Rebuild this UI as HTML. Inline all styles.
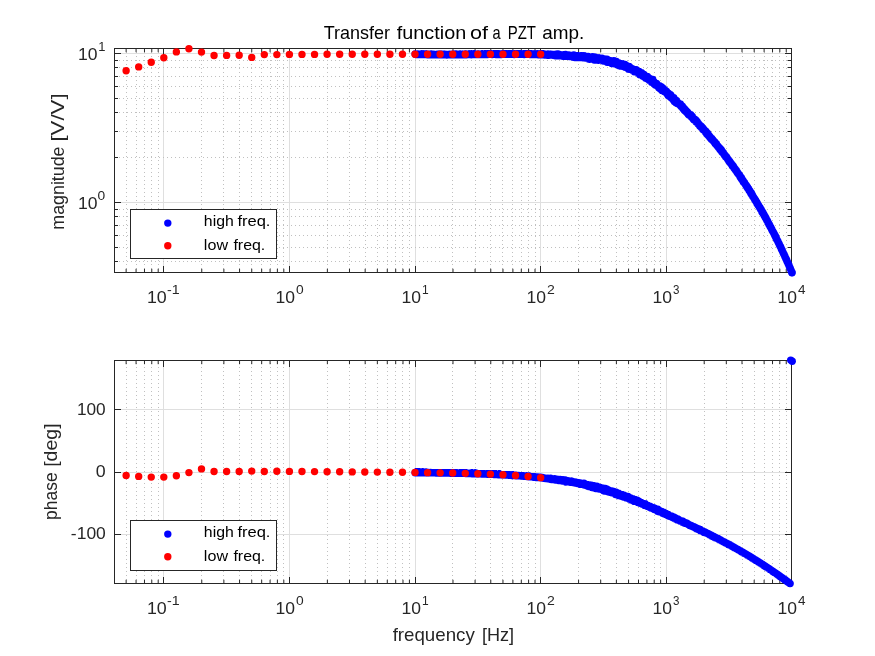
<!DOCTYPE html>
<html lang="en"><head><meta charset="utf-8"><title>Transfer function of a PZT amp.</title>
<style>html,body{margin:0;padding:0;background:#fff;overflow:hidden}svg{display:block}</style></head>
<body>
<svg width="875" height="656" viewBox="0 0 875 656" font-family='"Liberation Sans", Arial, sans-serif' fill="#262626">
<rect width="875" height="656" fill="#fff"/>
<g shape-rendering="crispEdges" fill="none" stroke-width="1">
<path d="M163.5 49V272M289.5 49V272M415.5 49V272M540.5 49V272M666.5 49V272M115 202.5H791M115 53.5H791" stroke="#dfdfdf"/>
<path d="M126.5 273V49M136.5 273V49M144.5 273V49M151.5 273V49M158.5 273V49M201.5 273V49M223.5 273V49M239.5 273V49M251.5 273V49M261.5 273V49M270.5 273V49M277.5 273V49M283.5 273V49M327.5 273V49M349.5 273V49M365.5 273V49M377.5 273V49M387.5 273V49M395.5 273V49M402.5 273V49M409.5 273V49M452.5 273V49M475.5 273V49M490.5 273V49M502.5 273V49M512.5 273V49M521.5 273V49M528.5 273V49M535.5 273V49M578.5 273V49M600.5 273V49M616.5 273V49M628.5 273V49M638.5 273V49M646.5 273V49M654.5 273V49M660.5 273V49M704.5 273V49M726.5 273V49M742.5 273V49M754.5 273V49M764.5 273V49M772.5 273V49M779.5 273V49M786.5 273V49M115 261.5H791M115 247.5H791M115 235.5H791M115 225.5H791M115 216.5H791M115 209.5H791M115 157.5H791M115 131.5H791M115 112.5H791M115 98.5H791M115 86.5H791M115 76.5H791M115 67.5H791M115 60.5H791" stroke="#c0c0c0" stroke-dasharray="1 3"/>
<path d="M163.5 272v-6M163.5 49v6M289.5 272v-6M289.5 49v6M415.5 272v-6M415.5 49v6M540.5 272v-6M540.5 49v6M666.5 272v-6M666.5 49v6M791.5 272v-6M791.5 49v6M115 202.5h6M791 202.5h-6M115 53.5h6M791 53.5h-6" stroke="#262626"/>
<rect x="114.5" y="48.5" width="677" height="224" stroke="#262626"/>
</g>
<path d="M126.13 272v-3.2M126.13 49v3.2M136.07 272v-3.2M136.07 49v3.2M144.48 272v-3.2M144.48 49v3.2M151.77 272v-3.2M151.77 49v3.2M158.19 272v-3.2M158.19 49v3.2M201.75 272v-3.2M201.75 49v3.2M223.87 272v-3.2M223.87 49v3.2M239.56 272v-3.2M239.56 49v3.2M251.74 272v-3.2M251.74 49v3.2M261.68 272v-3.2M261.68 49v3.2M270.09 272v-3.2M270.09 49v3.2M277.38 272v-3.2M277.38 49v3.2M283.8 272v-3.2M283.8 49v3.2M327.36 272v-3.2M327.36 49v3.2M349.48 272v-3.2M349.48 49v3.2M365.17 272v-3.2M365.17 49v3.2M377.35 272v-3.2M377.35 49v3.2M387.29 272v-3.2M387.29 49v3.2M395.7 272v-3.2M395.7 49v3.2M402.99 272v-3.2M402.99 49v3.2M409.41 272v-3.2M409.41 49v3.2M452.97 272v-3.2M452.97 49v3.2M475.09 272v-3.2M475.09 49v3.2M490.78 272v-3.2M490.78 49v3.2M502.96 272v-3.2M502.96 49v3.2M512.9 272v-3.2M512.9 49v3.2M521.31 272v-3.2M521.31 49v3.2M528.6 272v-3.2M528.6 49v3.2M535.02 272v-3.2M535.02 49v3.2M578.58 272v-3.2M578.58 49v3.2M600.7 272v-3.2M600.7 49v3.2M616.39 272v-3.2M616.39 49v3.2M628.57 272v-3.2M628.57 49v3.2M638.51 272v-3.2M638.51 49v3.2M646.92 272v-3.2M646.92 49v3.2M654.21 272v-3.2M654.21 49v3.2M660.63 272v-3.2M660.63 49v3.2M704.19 272v-3.2M704.19 49v3.2M726.31 272v-3.2M726.31 49v3.2M742 272v-3.2M742 49v3.2M754.18 272v-3.2M754.18 49v3.2M764.12 272v-3.2M764.12 49v3.2M772.53 272v-3.2M772.53 49v3.2M779.82 272v-3.2M779.82 49v3.2M786.24 272v-3.2M786.24 49v3.2M115 261.5h3M791 261.5h-3.2M115 247.5h3M791 247.5h-3.2M115 235.5h3M791 235.5h-3.2M115 225.5h3M791 225.5h-3.2M115 216.5h3M791 216.5h-3.2M115 209.5h3M791 209.5h-3.2M115 157.5h3M791 157.5h-3.2M115 131.5h3M791 131.5h-3.2M115 112.5h3M791 112.5h-3.2M115 98.5h3M791 98.5h-3.2M115 86.5h3M791 86.5h-3.2M115 76.5h3M791 76.5h-3.2M115 67.5h3M791 67.5h-3.2M115 60.5h3M791 60.5h-3.2" stroke="#262626" stroke-width="1" fill="none"/>
<path d="M415.16 54.04h0M415.36 54.31h0M415.56 54.27h0M415.76 54.29h0M415.96 54.56h0M416.16 54.38h0M416.36 54.47h0M416.56 54.26h0M416.76 54.23h0M416.96 54.22h0M417.16 54.3h0M417.36 54.58h0M417.56 54.35h0M417.76 54.06h0M417.96 54.28h0M418.16 54.59h0M418.36 54.37h0M418.56 54.47h0M418.76 54.67h0M418.96 54.2h0M419.16 54.47h0M419.36 54.39h0M419.56 54.35h0M419.76 54.41h0M419.96 54.44h0M420.16 54.18h0M420.36 54.49h0M420.56 54.4h0M420.76 54.42h0M420.96 54.36h0M421.16 54.41h0M421.36 54.31h0M421.56 54.24h0M421.76 54.31h0M421.96 54.46h0M422.16 54.4h0M422.36 54.59h0M422.56 54.36h0M422.76 54.43h0M422.96 54.28h0M423.16 54.45h0M423.36 54.19h0M423.56 54.46h0M423.76 54.37h0M423.96 54.29h0M424.16 54.59h0M424.36 54.35h0M424.56 54.47h0M424.76 54.17h0M424.96 54.52h0M425.16 54.53h0M425.36 54.6h0M425.56 54.55h0M425.76 54.3h0M425.96 54.51h0M426.16 54.46h0M426.36 54.11h0M426.56 54.54h0M426.76 54.3h0M426.96 54.64h0M427.16 54.54h0M427.36 54.74h0M427.56 54.33h0M427.76 54.5h0M427.96 54.5h0M428.16 54.38h0M428.36 54.52h0M428.56 54.82h0M428.76 54.58h0M428.96 54.44h0M429.16 54.61h0M429.36 54.3h0M429.56 54.41h0M429.76 54.46h0M429.96 54.81h0M430.16 54.68h0M430.36 54.35h0M430.56 54.62h0M430.76 54.33h0M430.96 54.51h0M431.16 54.57h0M431.36 54.43h0M431.56 54.43h0M431.76 54.77h0M431.96 54.73h0M432.16 54.75h0M432.36 54.44h0M432.56 54.55h0M432.76 54.56h0M432.96 54.58h0M433.16 54.53h0M433.36 54.78h0M433.56 54.27h0M433.76 54.7h0M433.96 54.51h0M434.16 54.43h0M434.36 54.76h0M434.56 54.84h0M434.76 54.42h0M434.96 54.65h0M435.16 54.39h0M435.36 54.71h0M435.56 54.83h0M435.76 54.74h0M435.96 54.59h0M436.16 54.61h0M436.36 54.54h0M436.56 54.54h0M436.76 54.59h0M436.96 54.6h0M437.16 54.57h0M437.36 54.32h0M437.56 54.78h0M437.76 54.48h0M437.96 54.78h0M438.16 54.8h0M438.36 54.56h0M438.56 54.6h0M438.76 54.73h0M438.96 54.5h0M439.16 54.49h0M439.36 54.75h0M439.56 54.36h0M439.76 54.63h0M439.96 54.84h0M440.16 54.58h0M440.36 54.68h0M440.56 54.56h0M440.76 54.9h0M440.96 54.7h0M441.16 54.48h0M441.36 54.71h0M441.56 54.71h0M441.76 54.54h0M441.96 54.47h0M442.16 54.56h0M442.36 54.92h0M442.56 54.49h0M442.76 54.68h0M442.96 54.65h0M443.16 54.47h0M443.36 54.33h0M443.56 54.29h0M443.76 54.61h0M443.96 54.83h0M444.16 54.61h0M444.36 54.61h0M444.56 54.44h0M444.76 54.28h0M444.96 54.55h0M445.16 54.36h0M445.36 54.77h0M445.56 54.68h0M445.76 54.56h0M445.96 54.45h0M446.16 54.48h0M446.36 54.67h0M446.56 54.65h0M446.76 54.96h0M446.96 54.63h0M447.16 54.56h0M447.36 54.89h0M447.56 54.83h0M447.76 54.74h0M447.96 54.79h0M448.16 54.73h0M448.36 54.47h0M448.56 54.74h0M448.76 54.44h0M448.96 54.6h0M449.16 54.65h0M449.36 54.51h0M449.56 54.6h0M449.76 54.28h0M449.96 54.8h0M450.16 54.58h0M450.36 54.51h0M450.56 54.41h0M450.76 54.33h0M450.96 54.46h0M451.16 54.76h0M451.36 54.49h0M451.56 54.66h0M451.76 54.58h0M451.96 54.38h0M452.16 54.54h0M452.36 54.57h0M452.56 54.44h0M452.76 54.6h0M452.96 54.67h0M453.16 54.29h0M453.36 54.46h0M453.56 54.44h0M453.76 54.44h0M453.96 54.68h0M454.16 54.64h0M454.36 54.89h0M454.56 54.69h0M454.76 54.55h0M454.96 54.47h0M455.16 54.84h0M455.36 54.41h0M455.56 54.72h0M455.76 54.86h0M455.96 54.54h0M456.16 54.51h0M456.36 54.55h0M456.56 54.53h0M456.76 54.44h0M456.96 54.33h0M457.16 54.63h0M457.36 54.81h0M457.56 54.53h0M457.76 54.68h0M457.96 54.3h0M458.16 54.62h0M458.36 54.69h0M458.56 54.51h0M458.76 54.73h0M458.96 54.38h0M459.16 54.38h0M459.36 54.53h0M459.56 54.45h0M459.76 54.46h0M459.96 54.63h0M460.16 54.36h0M460.36 54.55h0M460.56 54.42h0M460.76 54.42h0M460.96 54.65h0M461.16 54.56h0M461.36 54.49h0M461.56 54.5h0M461.76 54.37h0M461.96 54.9h0M462.16 54.31h0M462.36 54.51h0M462.56 54.44h0M462.76 54.56h0M462.96 54.28h0M463.16 54.65h0M463.36 54.46h0M463.56 54.89h0M463.76 54.83h0M463.96 54.5h0M464.16 54.78h0M464.36 54.34h0M464.56 54.74h0M464.76 54.69h0M464.96 54.27h0M465.16 54.78h0M465.36 54.3h0M465.56 54.38h0M465.76 54.46h0M465.96 54.37h0M466.16 54.62h0M466.36 54.3h0M466.56 54.77h0M466.76 54.44h0M466.96 54.51h0M467.16 54.51h0M467.36 54.35h0M467.56 54.12h0M467.76 54.56h0M467.96 54.45h0M468.16 54.35h0M468.36 54.66h0M468.56 54.37h0M468.76 54.42h0M468.96 54.32h0M469.16 54.2h0M469.36 54.21h0M469.56 54.49h0M469.76 54.54h0M469.96 54.51h0M470.16 54.35h0M470.36 54.42h0M470.56 54.62h0M470.76 54.18h0M470.96 54.66h0M471.16 54.24h0M471.36 54.74h0M471.56 54.23h0M471.76 54.09h0M471.96 54.42h0M472.16 54.43h0M472.36 54.34h0M472.56 54.38h0M472.76 54.2h0M472.96 54.2h0M473.16 54.11h0M473.36 54.41h0M473.56 54.14h0M473.76 54h0M473.96 54.62h0M474.16 53.99h0M474.36 54.46h0M474.56 54.02h0M474.76 54.42h0M474.96 54.29h0M475.16 54.46h0M475.36 54.24h0M475.56 54.2h0M475.76 54.51h0M475.96 54.16h0M476.16 54.29h0M476.36 54.41h0M476.56 54.4h0M476.76 54.4h0M476.96 54.29h0M477.16 54.17h0M477.36 54.51h0M477.56 54.64h0M477.76 54.63h0M477.96 54.59h0M478.16 54.03h0M478.36 54.33h0M478.56 54.16h0M478.76 54.44h0M478.96 54.57h0M479.16 54.21h0M479.36 54.56h0M479.56 54.25h0M479.76 54.43h0M479.96 54.08h0M480.16 54.45h0M480.36 54.14h0M480.56 54.16h0M480.76 54.47h0M480.96 54.33h0M481.16 54.27h0M481.36 54.37h0M481.56 53.85h0M481.76 54.29h0M481.96 53.83h0M482.16 54.45h0M482.36 54.26h0M482.56 54.23h0M482.76 54h0M482.96 54.22h0M483.16 54.26h0M483.36 54.2h0M483.56 54.3h0M483.76 54.19h0M483.96 54.26h0M484.16 54.34h0M484.36 54.44h0M484.56 53.97h0M484.76 54.44h0M484.96 54.04h0M485.16 54.32h0M485.36 53.9h0M485.56 54.11h0M485.76 54.21h0M485.96 54.28h0M486.16 53.93h0M486.36 54.34h0M486.56 54.15h0M486.76 54.23h0M486.96 54.32h0M487.16 53.84h0M487.36 54.37h0M487.56 54.52h0M487.76 54.37h0M487.96 54.2h0M488.16 53.88h0M488.36 53.85h0M488.56 53.85h0M488.76 54.24h0M488.96 54.38h0M489.16 54.06h0M489.36 54.32h0M489.56 54.02h0M489.76 54.18h0M489.96 54.14h0M490.16 53.99h0M490.36 54.05h0M490.56 54.2h0M490.76 53.9h0M490.96 54.4h0M491.16 54.32h0M491.36 53.96h0M491.56 54.2h0M491.76 54.34h0M491.96 53.95h0M492.16 54.44h0M492.36 54.2h0M492.56 54.14h0M492.76 54.3h0M492.96 54.2h0M493.16 54.35h0M493.36 54.34h0M493.56 54.02h0M493.76 54.31h0M493.96 54.05h0M494.16 54.21h0M494.36 54.2h0M494.56 53.88h0M494.76 54.27h0M494.96 54.24h0M495.16 54.09h0M495.36 54.31h0M495.56 53.9h0M495.76 54.18h0M495.96 54.56h0M496.16 54.05h0M496.36 54.55h0M496.56 54.19h0M496.76 53.97h0M496.96 54.12h0M497.16 54h0M497.36 54.43h0M497.56 54.36h0M497.76 54.38h0M497.96 54.06h0M498.16 54h0M498.36 53.99h0M498.56 53.98h0M498.76 54.08h0M498.96 53.77h0M499.16 54.21h0M499.36 54.15h0M499.56 54.43h0M499.76 54.12h0M499.96 54.2h0M500.16 54.42h0M500.36 53.97h0M500.56 54.23h0M500.76 54.1h0M500.96 53.99h0M501.16 53.94h0M501.36 54.46h0M501.56 54.33h0M501.76 54.14h0M501.96 53.91h0M502.16 54.3h0M502.36 54.04h0M502.56 53.67h0M502.76 54.18h0M502.96 53.98h0M503.16 53.8h0M503.36 54.26h0M503.56 53.95h0M503.76 54.2h0M503.96 54.09h0M504.16 54.19h0M504.36 53.88h0M504.56 53.88h0M504.76 53.91h0M504.96 54.27h0M505.16 54.12h0M505.36 54h0M505.56 53.92h0M505.76 54.01h0M505.96 54.17h0M506.16 53.95h0M506.36 54.08h0M506.56 54.21h0M506.76 54.25h0M506.96 54.2h0M507.16 53.85h0M507.36 53.99h0M507.56 54.07h0M507.76 54h0M507.96 54.18h0M508.16 53.8h0M508.36 53.89h0M508.56 54.06h0M508.76 54.06h0M508.96 54.15h0M509.16 53.72h0M509.36 53.87h0M509.56 53.99h0M509.76 54.1h0M509.96 54.31h0M510.16 53.77h0M510.36 54.01h0M510.56 53.87h0M510.76 53.91h0M510.96 54.03h0M511.16 54.16h0M511.36 54.14h0M511.56 54.03h0M511.76 53.82h0M511.96 54.08h0M512.16 54.05h0M512.36 53.96h0M512.56 53.96h0M512.76 53.87h0M512.96 54.24h0M513.16 54.11h0M513.36 53.99h0M513.56 54.37h0M513.76 54.03h0M513.96 54.21h0M514.16 54.54h0M514.36 53.68h0M514.56 54.03h0M514.76 54.28h0M514.96 54.22h0M515.16 54.14h0M515.36 54.18h0M515.56 53.9h0M515.76 54.21h0M515.96 53.97h0M516.16 54.31h0M516.36 53.74h0M516.56 53.92h0M516.76 54.24h0M516.96 54.08h0M517.16 53.91h0M517.36 53.9h0M517.56 53.99h0M517.76 54.16h0M517.96 54.09h0M518.16 54.02h0M518.36 54.26h0M518.56 54.22h0M518.76 54.03h0M518.96 53.86h0M519.16 54.09h0M519.36 54.15h0M519.56 54.05h0M519.76 54.42h0M519.96 54.16h0M520.16 54.15h0M520.36 54.23h0M520.56 54.08h0M520.76 54.24h0M520.96 54.21h0M521.16 54.2h0M521.36 54.07h0M521.56 53.82h0M521.76 53.92h0M521.96 54.06h0M522.16 53.93h0M522.36 53.91h0M522.56 54h0M522.76 53.9h0M522.96 54.29h0M523.16 54.13h0M523.36 54.22h0M523.56 54.12h0M523.76 53.99h0M523.96 53.82h0M524.16 54.43h0M524.36 54.18h0M524.56 53.75h0M524.76 54.34h0M524.96 53.85h0M525.16 53.94h0M525.36 53.82h0M525.56 53.92h0M525.76 54.04h0M525.96 54.21h0M526.16 54.11h0M526.36 53.89h0M526.56 54.02h0M526.76 53.75h0M526.96 53.95h0M527.16 54.15h0M527.36 54.31h0M527.56 54.13h0M527.76 53.93h0M527.96 53.94h0M528.16 54.32h0M528.36 54.2h0M528.56 53.84h0M528.76 53.97h0M528.96 54.05h0M529.16 54.06h0M529.36 53.87h0M529.56 54.19h0M529.76 54.02h0M529.96 54.49h0M530.16 54.04h0M530.36 54.17h0M530.56 54.42h0M530.76 54.18h0M530.96 54.51h0M531.16 53.87h0M531.36 54.28h0M531.56 54.19h0M531.76 54.05h0M531.96 54.1h0M532.16 54.38h0M532.36 54.25h0M532.56 54.31h0M532.76 54.24h0M532.96 54.59h0M533.16 54.06h0M533.36 54.23h0M533.56 54.15h0M533.76 54.23h0M533.96 54.2h0M534.16 54.38h0M534.36 53.94h0M534.56 54.18h0M534.76 54.17h0M534.96 54.39h0M535.16 54.38h0M535.36 53.93h0M535.56 54.46h0M535.76 54.11h0M535.96 54.32h0M536.16 53.92h0M536.36 54.03h0M536.56 54.4h0M536.76 54.44h0M536.96 54.24h0M537.16 54.25h0M537.36 54.59h0M537.56 53.82h0M537.76 54.18h0M537.96 54.35h0M538.16 54.84h0M538.36 53.98h0M538.56 54.76h0M538.76 54.11h0M538.96 54.46h0M539.16 54.61h0M539.36 54.48h0M539.56 54.32h0M539.76 54.37h0M539.96 54.52h0M540.16 54.21h0M540.36 54.63h0M540.56 54.3h0M540.76 54.43h0M540.96 54.51h0M541.16 54.31h0M541.36 54.37h0M541.56 54.53h0M541.76 54.77h0M541.96 54.87h0M542.16 54.14h0M542.36 54.12h0M542.56 54.2h0M542.76 54.31h0M542.96 54.11h0M543.16 54.47h0M543.36 54.22h0M543.56 54.08h0M543.76 54.89h0M543.96 54.41h0M544.16 54.64h0M544.36 54.23h0M544.56 54.97h0M544.76 54.72h0M544.96 54.63h0M545.16 54.47h0M545.36 54.67h0M545.56 54.3h0M545.76 54.69h0M545.96 54.56h0M546.16 54.39h0M546.36 54.53h0M546.56 54.51h0M546.76 54.51h0M546.96 54.68h0M547.16 54.56h0M547.36 55.18h0M547.56 54.51h0M547.76 54.17h0M547.96 54.12h0M548.16 54.67h0M548.36 54.66h0M548.56 54.59h0M548.76 54.45h0M548.96 55.25h0M549.16 54.69h0M549.36 54.53h0M549.56 54.2h0M549.76 54.93h0M549.96 54.54h0M550.16 54.77h0M550.36 54.78h0M550.56 54.71h0M550.76 54.56h0M550.96 54.22h0M551.16 54.91h0M551.36 54.45h0M551.56 54.71h0M551.76 54.62h0M551.96 55.08h0M552.16 54.79h0M552.36 54.47h0M552.56 54.76h0M552.76 55.14h0M552.96 55.34h0M553.16 54.64h0M553.36 55.28h0M553.56 54.46h0M553.76 55.16h0M553.96 54.88h0M554.16 55.05h0M554.36 54.94h0M554.56 55.37h0M554.76 54.64h0M554.96 54.69h0M555.16 54.4h0M555.36 55.78h0M555.56 54.56h0M555.76 55.44h0M555.96 55.48h0M556.16 55.43h0M556.36 55.37h0M556.56 55.16h0M556.76 55.29h0M556.96 54.72h0M557.16 54.41h0M557.36 54.81h0M557.56 53.87h0M557.76 55.36h0M557.96 55.18h0M558.16 54.74h0M558.36 55.92h0M558.56 54.34h0M558.76 55.05h0M558.96 55.56h0M559.16 54.57h0M559.36 55.72h0M559.56 54.49h0M559.76 55.24h0M559.96 55.09h0M560.16 55.05h0M560.36 54.66h0M560.56 54.8h0M560.76 55.48h0M560.96 54.86h0M561.16 55.33h0M561.36 55.36h0M561.56 55.4h0M561.76 55.11h0M561.96 55.49h0M562.16 55.78h0M562.36 55.7h0M562.56 55.24h0M562.76 55.78h0M562.96 56.29h0M563.16 55.87h0M563.36 55.94h0M563.56 55.31h0M563.76 54.67h0M563.96 55.97h0M564.16 55.43h0M564.36 55.16h0M564.56 54.71h0M564.76 55.56h0M564.96 56.13h0M565.16 54.83h0M565.36 56.19h0M565.56 54.57h0M565.76 55.45h0M565.96 55.81h0M566.16 55.98h0M566.36 55.54h0M566.56 55.35h0M566.76 56.1h0M566.96 55.47h0M567.16 55.49h0M567.36 55.02h0M567.56 55.38h0M567.76 56.23h0M567.96 56.21h0M568.16 55.96h0M568.36 56.32h0M568.56 55.58h0M568.76 54.99h0M568.96 55.96h0M569.16 56.42h0M569.36 56.62h0M569.56 56.33h0M569.76 55.94h0M569.96 55.26h0M570.16 55.82h0M570.36 55.58h0M570.56 55.8h0M570.76 55.65h0M570.96 56.18h0M571.16 55.72h0M571.36 56.42h0M571.56 55.71h0M571.76 55.52h0M571.96 56.32h0M572.16 56.53h0M572.36 56.19h0M572.56 56.35h0M572.76 56.42h0M572.96 55.92h0M573.16 55.23h0M573.36 57.32h0M573.56 56.14h0M573.76 54.93h0M573.96 56.72h0M574.16 56.71h0M574.36 57.01h0M574.56 57.14h0M574.76 57.46h0M574.96 56.73h0M575.16 56.1h0M575.36 56.02h0M575.56 55.33h0M575.76 56.89h0M575.96 57.22h0M576.16 56.24h0M576.36 57.15h0M576.56 56.9h0M576.76 57.04h0M576.96 56h0M577.16 55.74h0M577.36 57.46h0M577.56 56.64h0M577.76 55.69h0M577.96 55.59h0M578.16 55.62h0M578.36 57.17h0M578.56 57.1h0M578.76 56.61h0M578.96 57.11h0M579.16 57.2h0M579.36 57.48h0M579.56 56.47h0M579.76 56.92h0M579.96 56.84h0M580.16 55.9h0M580.36 57.67h0M580.56 56.92h0M580.76 57.14h0M580.96 56.89h0M581.16 55.93h0M581.36 55.68h0M581.56 55.8h0M581.76 56.69h0M581.96 57.39h0M582.16 56.21h0M582.36 57.45h0M582.56 57.1h0M582.76 57.26h0M582.96 57.69h0M583.16 57.04h0M583.36 57.56h0M583.56 57.3h0M583.76 55.72h0M583.96 57.65h0M584.16 57.12h0M584.36 56.78h0M584.56 56.68h0M584.76 56.77h0M584.96 56.96h0M585.16 57.28h0M585.36 58.11h0M585.56 56.65h0M585.76 57.38h0M585.96 56.95h0M586.16 56.37h0M586.36 57.28h0M586.56 58.17h0M586.76 56.74h0M586.96 57.09h0M587.16 57.59h0M587.36 58.27h0M587.56 57.49h0M587.76 57.86h0M587.96 57.25h0M588.16 56.53h0M588.36 57.41h0M588.56 58.94h0M588.76 57.87h0M588.96 57.31h0M589.16 57.55h0M589.36 57.76h0M589.56 59.23h0M589.76 57.89h0M589.96 57.92h0M590.16 57.52h0M590.36 57.74h0M590.56 59h0M590.76 57.47h0M590.96 58.33h0M591.16 58.46h0M591.36 56.93h0M591.56 58.66h0M591.76 58.59h0M591.96 57.35h0M592.16 57.78h0M592.36 58.31h0M592.56 56.81h0M592.76 56.96h0M592.96 58.46h0M593.16 57.88h0M593.36 59.13h0M593.56 56.92h0M593.76 57.74h0M593.96 58.56h0M594.16 59.04h0M594.36 60.07h0M594.56 57.64h0M594.76 57.58h0M594.96 59.47h0M595.16 58.34h0M595.36 57.3h0M595.56 58.57h0M595.76 58.79h0M595.96 58.49h0M596.16 58.12h0M596.36 58.61h0M596.56 58.79h0M596.76 58.48h0M596.96 58.37h0M597.16 58.17h0M597.36 59.03h0M597.56 59.97h0M597.76 58.6h0M597.96 58.2h0M598.16 59.74h0M598.36 60.31h0M598.56 58.78h0M598.76 57.85h0M598.96 59.27h0M599.16 57.94h0M599.36 58.08h0M599.56 59.15h0M599.76 58.73h0M599.96 58.25h0M600.16 59.46h0M600.36 59.71h0M600.56 59.71h0M600.76 59.51h0M600.96 60.16h0M601.16 59.24h0M601.36 59.98h0M601.56 59.27h0M601.76 59.33h0M601.96 58.31h0M602.16 59h0M602.36 60.34h0M602.56 60.4h0M602.76 59.26h0M602.96 59.37h0M603.16 60.25h0M603.36 60.96h0M603.56 58.84h0M603.76 59.97h0M603.96 59.27h0M604.16 60.42h0M604.36 59.82h0M604.56 59.14h0M604.76 60.94h0M604.96 60.29h0M605.16 60.37h0M605.36 59.32h0M605.56 60.41h0M605.76 60.23h0M605.96 61.09h0M606.16 60.75h0M606.36 60.3h0M606.56 59.63h0M606.76 61.73h0M606.96 59.32h0M607.16 62.27h0M607.36 61.36h0M607.56 61.92h0M607.76 60.83h0M607.96 60.31h0M608.16 59.94h0M608.36 61.62h0M608.56 61.31h0M608.76 61.79h0M608.96 60.93h0M609.16 62.42h0M609.36 62.19h0M609.56 61.9h0M609.76 60.81h0M609.96 60.76h0M610.16 60.99h0M610.36 61.23h0M610.56 62.34h0M610.76 60.81h0M610.96 61.63h0M611.16 61.46h0M611.36 61.54h0M611.56 63.22h0M611.76 63.58h0M611.96 61.85h0M612.16 62.61h0M612.36 62.47h0M612.56 61.75h0M612.76 61.64h0M612.96 61.39h0M613.16 61.05h0M613.36 63.32h0M613.56 63.5h0M613.76 60.64h0M613.96 62.06h0M614.16 61.03h0M614.36 63.74h0M614.56 62.52h0M614.76 62.33h0M614.96 61.58h0M615.16 61.55h0M615.36 62.41h0M615.56 62.78h0M615.76 63.83h0M615.96 62.14h0M616.16 62.96h0M616.36 61.56h0M616.56 64.05h0M616.76 63.35h0M616.96 62.98h0M617.16 64.82h0M617.36 62.48h0M617.56 63.81h0M617.76 64.02h0M617.96 62.87h0M618.16 63.78h0M618.36 64.6h0M618.56 63.77h0M618.76 63.49h0M618.96 63.01h0M619.16 64.35h0M619.36 65.71h0M619.56 64.26h0M619.76 64.17h0M619.96 63.43h0M620.16 64.83h0M620.36 63.89h0M620.56 63.52h0M620.76 64.47h0M620.96 66.16h0M621.16 63.83h0M621.36 64.13h0M621.56 65.94h0M621.76 63.61h0M621.96 63.96h0M622.16 64.55h0M622.36 65.35h0M622.56 64.7h0M622.76 64.71h0M622.96 64.93h0M623.16 65.25h0M623.36 66.52h0M623.56 65.31h0M623.76 65.78h0M623.96 64.29h0M624.16 65.55h0M624.36 66.29h0M624.56 65.5h0M624.76 66.4h0M624.96 64.56h0M625.16 67.29h0M625.36 66.29h0M625.56 66.43h0M625.76 66.78h0M625.96 65.81h0M626.16 66.46h0M626.36 67.56h0M626.56 65.81h0M626.76 65.66h0M626.96 67h0M627.16 67.73h0M627.36 65.87h0M627.56 66.17h0M627.76 68.39h0M627.96 67.15h0M628.16 68.11h0M628.36 67.25h0M628.56 69.14h0M628.76 66.81h0M628.96 68.97h0M629.16 66.45h0M629.36 69.34h0M629.56 68.26h0M629.76 68.09h0M629.96 68.69h0M630.16 68.74h0M630.36 68.66h0M630.56 68.24h0M630.76 69.47h0M630.96 67.87h0M631.16 68.16h0M631.36 69.17h0M631.56 69.44h0M631.76 69.14h0M631.96 68.91h0M632.16 69.35h0M632.36 70.33h0M632.56 69.21h0M632.76 69.01h0M632.96 69.08h0M633.16 70.25h0M633.36 69.67h0M633.56 70.23h0M633.76 70.96h0M633.96 70.14h0M634.16 69.87h0M634.36 71.75h0M634.56 70.93h0M634.76 71.4h0M634.96 70.13h0M635.16 70.73h0M635.36 70.87h0M635.56 70.12h0M635.76 71.82h0M635.96 70.62h0M636.16 69.8h0M636.36 70.78h0M636.56 71.47h0M636.76 70.38h0M636.96 71.2h0M637.16 71.61h0M637.36 71.03h0M637.56 71.7h0M637.76 72.27h0M637.96 72.85h0M638.16 72.55h0M638.36 72.09h0M638.56 73.62h0M638.76 72.95h0M638.96 72.64h0M639.16 71.47h0M639.36 73.01h0M639.56 74.23h0M639.76 74.87h0M639.96 73.46h0M640.16 74.17h0M640.36 73.39h0M640.56 73.61h0M640.76 72.78h0M640.96 74.29h0M641.16 73.64h0M641.36 73.8h0M641.56 72.79h0M641.76 74.71h0M641.96 74.56h0M642.16 74.39h0M642.36 73.97h0M642.56 74.41h0M642.76 75.55h0M642.96 76.17h0M643.16 75.82h0M643.36 74.64h0M643.56 76.34h0M643.76 76.57h0M643.96 74.33h0M644.16 75.79h0M644.36 76.46h0M644.56 76.18h0M644.76 76.75h0M644.96 76.02h0M645.16 75.59h0M645.36 77.97h0M645.56 76.05h0M645.76 76.53h0M645.96 77.69h0M646.16 77.44h0M646.36 78.5h0M646.56 77.65h0M646.76 78.83h0M646.96 77.18h0M647.16 78.51h0M647.36 76.55h0M647.56 77.13h0M647.76 77.06h0M647.96 77.49h0M648.16 78.22h0M648.36 78.33h0M648.56 78.22h0M648.76 78.82h0M648.96 79.43h0M649.16 80.14h0M649.36 80.27h0M649.56 78.57h0M649.76 79.29h0M649.96 80.34h0M650.16 79.34h0M650.36 79.79h0M650.56 80.03h0M650.76 80.49h0M650.96 80.97h0M651.16 80.36h0M651.36 79.78h0M651.56 82.19h0M651.76 80.77h0M651.96 80.93h0M652.16 81.35h0M652.36 81.75h0M652.56 81.92h0M652.76 79.54h0M652.96 82.05h0M653.16 81.34h0M653.36 82.74h0M653.56 82.16h0M653.76 83.38h0M653.96 82.2h0M654.16 81.84h0M654.36 83.65h0M654.56 84.32h0M654.76 84.54h0M654.96 83.57h0M655.16 84.24h0M655.36 84.95h0M655.56 83.58h0M655.76 85.15h0M655.96 83.99h0M656.16 83.56h0M656.36 84.71h0M656.56 83.35h0M656.76 84.23h0M656.96 84.91h0M657.16 85.64h0M657.36 85.09h0M657.56 84.67h0M657.76 86.25h0M657.96 85.97h0M658.16 86.31h0M658.36 85.6h0M658.56 87.29h0M658.76 87.68h0M658.96 86.64h0M659.16 87.98h0M659.36 86.38h0M659.56 85.84h0M659.76 88.55h0M659.96 85.89h0M660.16 88.52h0M660.36 87.84h0M660.56 87.95h0M660.76 87.81h0M660.96 88.15h0M661.16 88.12h0M661.36 90h0M661.56 86.96h0M661.76 88.98h0M661.96 90.56h0M662.16 90.61h0M662.36 89.14h0M662.56 89.38h0M662.76 89.28h0M662.96 88.31h0M663.16 90.02h0M663.36 89.28h0M663.56 90.16h0M663.76 90.54h0M663.96 89.8h0M664.16 91.45h0M664.36 90.28h0M664.56 89.8h0M664.76 91.18h0M664.96 90.93h0M665.16 91.51h0M665.36 91.83h0M665.56 92.23h0M665.76 92.44h0M665.96 92.12h0M666.16 92.3h0M666.36 91.28h0M666.56 91.44h0M666.76 92.56h0M666.96 93.76h0M667.16 92.85h0M667.36 92.64h0M667.56 92.88h0M667.76 93.81h0M667.96 94.54h0M668.16 95.51h0M668.36 93.32h0M668.56 93.39h0M668.76 94.23h0M668.96 95.11h0M669.16 93.99h0M669.36 94.46h0M669.56 95.59h0M669.76 95.28h0M669.96 95.09h0M670.16 96.91h0M670.36 94.78h0M670.56 94.82h0M670.76 96.55h0M670.96 96.56h0M671.16 97.86h0M671.36 97.84h0M671.56 96.32h0M671.76 97.58h0M671.96 97.15h0M672.16 96.84h0M672.36 98.69h0M672.56 97.19h0M672.76 98.44h0M672.96 99.05h0M673.16 97.91h0M673.36 99.96h0M673.56 99.27h0M673.76 97.81h0M673.96 98.49h0M674.16 99.3h0M674.36 101.39h0M674.56 100.11h0M674.76 99.44h0M674.96 101.41h0M675.16 99.87h0M675.36 100.74h0M675.56 99.84h0M675.76 100.78h0M675.96 102.78h0M676.16 102.79h0M676.36 100.46h0M676.56 102.25h0M676.76 101.87h0M676.96 102.29h0M677.16 103.44h0M677.36 102.8h0M677.56 103.3h0M677.76 102.55h0M677.96 103.72h0M678.16 103.07h0M678.36 104.06h0M678.56 103.88h0M678.76 103.67h0M678.96 103.85h0M679.16 103.8h0M679.36 104.68h0M679.56 104.58h0M679.76 104.8h0M679.96 104.99h0M680.16 104.85h0M680.36 104.03h0M680.56 105.31h0M680.76 106.07h0M680.96 105.56h0M681.16 106.47h0M681.36 105.42h0M681.56 106.76h0M681.76 105.94h0M681.96 106.59h0M682.16 107.24h0M682.36 106.16h0M682.56 108.03h0M682.76 107.85h0M682.96 108.24h0M683.16 108.76h0M683.36 108.38h0M683.56 108.89h0M683.76 108.76h0M683.96 109.73h0M684.16 108.44h0M684.36 110.36h0M684.56 108.9h0M684.76 109.7h0M684.96 109.67h0M685.16 110.9h0M685.36 110.49h0M685.56 110.32h0M685.76 111.47h0M685.96 110.41h0M686.16 111.18h0M686.36 111.83h0M686.56 111.32h0M686.76 112.5h0M686.96 112.37h0M687.16 112.01h0M687.36 111.92h0M687.56 113.21h0M687.76 112.54h0M687.96 112.74h0M688.16 114.32h0M688.36 113.54h0M688.56 114.21h0M688.76 114.05h0M688.96 114.96h0M689.16 113.97h0M689.36 114.35h0M689.56 114.64h0M689.76 114.72h0M689.96 115.42h0M690.16 115.81h0M690.36 115.29h0M690.56 115.17h0M690.76 114.63h0M690.96 116.13h0M691.16 116.03h0M691.36 116.88h0M691.56 116.51h0M691.76 116.81h0M691.96 116.72h0M692.16 116.16h0M692.36 117.05h0M692.56 117.2h0M692.76 117.76h0M692.96 118.65h0M693.16 118.83h0M693.36 118.66h0M693.56 119.1h0M693.76 119.65h0M693.96 119.03h0M694.16 120.01h0M694.36 119.96h0M694.56 120.04h0M694.76 119.21h0M694.96 120.25h0M695.16 120.08h0M695.36 119.8h0M695.56 121.02h0M695.76 120.75h0M695.96 120.24h0M696.16 122.04h0M696.36 121.85h0M696.56 121.93h0M696.76 121.25h0M696.96 122.49h0M697.16 121.64h0M697.36 122.13h0M697.56 122.44h0M697.76 123.32h0M697.96 123.7h0M698.16 124.06h0M698.36 123.49h0M698.56 123.84h0M698.76 124.58h0M698.96 124.87h0M699.16 124.46h0M699.36 125.24h0M699.56 125.43h0M699.76 125.97h0M699.96 125.42h0M700.16 125.4h0M700.36 126.39h0M700.56 126.03h0M700.76 126.83h0M700.96 126.88h0M701.16 126.08h0M701.36 127.44h0M701.56 126.99h0M701.76 127.3h0M701.96 127.68h0M702.16 128.03h0M702.36 128.09h0M702.56 127.78h0M702.76 128.33h0M702.96 128.72h0M703.16 129.82h0M703.36 129.56h0M703.56 129.19h0M703.76 129.32h0M703.96 130.17h0M704.16 130.23h0M704.36 130.31h0M704.56 130.34h0M704.76 130.56h0M704.96 130.66h0M705.16 131.03h0M705.36 132.07h0M705.56 130.96h0M705.76 132.19h0M705.96 132.13h0M706.16 132.37h0M706.36 132.72h0M706.56 133.81h0M706.76 132.37h0M706.96 133.62h0M707.16 133.38h0M707.36 133.69h0M707.56 134.85h0M707.76 133.38h0M707.96 134.53h0M708.16 135.18h0M708.36 134.73h0M708.56 135.72h0M708.76 135.23h0M708.96 135.9h0M709.16 135.8h0M709.36 136.74h0M709.56 136.25h0M709.76 136.49h0M709.96 137.11h0M710.16 137.68h0M710.36 137.18h0M710.56 138.18h0M710.76 137.87h0M710.96 138.05h0M711.16 138.37h0M711.36 139.15h0M711.56 138.83h0M711.76 138.34h0M711.96 138.99h0M712.16 139.64h0M712.36 139.93h0M712.56 139.82h0M712.76 139.67h0M712.96 140.34h0M713.16 140.67h0M713.36 140.77h0M713.56 141.31h0M713.76 141.53h0M713.96 141.25h0M714.16 141.62h0M714.36 142.17h0M714.56 142.25h0M714.76 142.01h0M714.96 143.2h0M715.16 142.88h0M715.36 143.7h0M715.56 143.69h0M715.76 143.52h0M715.96 144.24h0M716.16 144.56h0M716.36 143.74h0M716.56 145h0M716.76 145.06h0M716.96 145.33h0M717.16 145.41h0M717.36 145.93h0M717.56 146h0M717.76 146.01h0M717.96 146.82h0M718.16 147.06h0M718.36 147.05h0M718.56 147.11h0M718.76 147.85h0M718.96 147.6h0M719.16 147.52h0M719.36 148.34h0M719.56 148.01h0M719.76 148.96h0M719.96 149.57h0M720.16 149.23h0M720.36 149.59h0M720.56 149.53h0M720.76 149.22h0M720.96 150.27h0M721.16 150.81h0M721.36 150.03h0M721.56 150.69h0M721.76 151.85h0M721.96 151.24h0M722.16 151.49h0M722.36 151.97h0M722.56 152.43h0M722.76 152.4h0M722.96 152.5h0M723.16 152.56h0M723.36 152.98h0M723.56 153.42h0M723.76 154h0M723.96 153.95h0M724.16 154.15h0M724.36 155.07h0M724.56 154.77h0M724.76 155.25h0M724.96 155.43h0M725.16 155.49h0M725.36 155.89h0M725.56 156.76h0M725.76 156.23h0M725.96 156.47h0M726.16 156.94h0M726.36 156.81h0M726.56 157.53h0M726.76 157.77h0M726.96 157.69h0M727.16 158.3h0M727.36 158.74h0M727.56 158.94h0M727.76 158.94h0M727.96 159.36h0M728.16 159.76h0M728.36 160.22h0M728.56 160.56h0M728.76 160.95h0M728.96 160.61h0M729.16 160.95h0M729.36 161.45h0M729.56 161.29h0M729.76 161.91h0M729.96 162.51h0M730.16 162.15h0M730.36 162.45h0M730.56 162.6h0M730.76 163.58h0M730.96 163.78h0M731.16 163.51h0M731.36 163.8h0M731.56 164.19h0M731.76 164.73h0M731.96 164.72h0M732.16 165.37h0M732.36 165.98h0M732.56 165.2h0M732.76 166.33h0M732.96 165.96h0M733.16 165.94h0M733.36 166.26h0M733.56 166.74h0M733.76 167.25h0M733.96 167.93h0M734.16 167.99h0M734.36 167.89h0M734.56 168.48h0M734.76 168.93h0M734.96 169.07h0M735.16 168.89h0M735.36 169.64h0M735.56 169.67h0M735.76 170.58h0M735.96 170.35h0M736.16 170.17h0M736.36 170.49h0M736.56 171.24h0M736.76 171.53h0M736.96 172.12h0M737.16 172.47h0M737.36 172.25h0M737.56 172.93h0M737.76 173.16h0M737.96 173.08h0M738.16 173.34h0M738.36 173.94h0M738.56 174.01h0M738.76 174.32h0M738.96 174.67h0M739.16 175.11h0M739.36 174.87h0M739.56 175.25h0M739.76 175.81h0M739.96 176.18h0M740.16 177.11h0M740.36 176.57h0M740.56 176.88h0M740.76 177.29h0M740.96 177.44h0M741.16 178.54h0M741.36 177.62h0M741.56 178.97h0M741.76 178.8h0M741.96 178.85h0M742.16 179.74h0M742.36 179.84h0M742.56 180.55h0M742.76 180.69h0M742.96 180.39h0M743.16 180.97h0M743.36 181.88h0M743.56 181.4h0M743.76 182.01h0M743.96 182.48h0M744.16 182.47h0M744.36 182.38h0M744.56 182.82h0M744.76 183.42h0M744.96 183.66h0M745.16 183.91h0M745.36 184.44h0M745.56 184.86h0M745.76 184.62h0M745.96 185.62h0M746.16 185.57h0M746.36 185.49h0M746.56 186.45h0M746.76 186.3h0M746.96 186.6h0M747.16 186.78h0M747.36 187.68h0M747.56 187.25h0M747.76 188.13h0M747.96 188.55h0M748.16 188.76h0M748.36 189.09h0M748.56 188.71h0M748.76 189.44h0M748.96 190.32h0M749.16 189.99h0M749.36 190.63h0M749.56 190.4h0M749.76 191.26h0M749.96 190.87h0M750.16 191.96h0M750.36 192.01h0M750.56 192.23h0M750.76 193.18h0M750.96 193.14h0M751.16 193.08h0M751.36 193h0M751.56 194.5h0M751.76 193.84h0M751.96 194.68h0M752.16 194.63h0M752.36 195.13h0M752.56 195.37h0M752.76 196.4h0M752.96 196.33h0M753.16 196.61h0M753.36 196.97h0M753.56 197.13h0M753.76 197.81h0M753.96 197.99h0M754.16 198.54h0M754.36 198.76h0M754.56 198.68h0M754.76 199.7h0M754.96 199.5h0M755.16 199.89h0M755.36 200.43h0M755.56 200.22h0M755.76 200.73h0M755.96 201.57h0M756.16 201.8h0M756.36 201.73h0M756.56 201.91h0M756.76 202.6h0M756.96 203.41h0M757.16 202.94h0M757.36 203.53h0M757.56 204.15h0M757.76 204.36h0M757.96 205.03h0M758.16 204.98h0M758.36 205.5h0M758.56 205.49h0M758.76 205.63h0M758.96 206.37h0M759.16 206.58h0M759.36 207.02h0M759.56 207.39h0M759.76 207.46h0M759.96 208h0M760.16 207.77h0M760.36 208.75h0M760.56 209.18h0M760.76 208.91h0M760.96 209.87h0M761.16 209.58h0M761.36 210.34h0M761.56 210.72h0M761.76 210.87h0M761.96 211.97h0M762.16 211.5h0M762.36 212.21h0M762.56 212.73h0M762.76 212.55h0M762.96 212.68h0M763.16 213.82h0M763.36 214.05h0M763.56 214.23h0M763.76 214.24h0M763.96 215.05h0M764.16 215.6h0M764.36 215.6h0M764.56 215.67h0M764.76 216.36h0M764.96 216.78h0M765.16 216.71h0M765.36 217.64h0M765.56 217.51h0M765.76 218.11h0M765.96 218.32h0M766.16 218.76h0M766.36 219.08h0M766.56 219.68h0M766.76 220.19h0M766.96 220.36h0M767.16 220.55h0M767.36 221.09h0M767.56 221.14h0M767.76 221.87h0M767.96 222.27h0M768.16 222.61h0M768.36 223.17h0M768.56 223.25h0M768.76 224.01h0M768.96 224.38h0M769.16 224.28h0M769.36 224.75h0M769.56 225.52h0M769.76 225.44h0M769.96 226.36h0M770.16 226.45h0M770.36 226.98h0M770.56 226.85h0M770.76 227.4h0M770.96 227.72h0M771.16 228.18h0M771.36 228.61h0M771.56 229.19h0M771.76 229.29h0M771.96 230.09h0M772.16 230.56h0M772.36 230.58h0M772.56 230.91h0M772.76 231.51h0M772.96 231.68h0M773.16 232.02h0M773.36 232.4h0M773.56 232.8h0M773.76 233.31h0M773.96 233.55h0M774.16 234.02h0M774.36 234.12h0M774.56 234.98h0M774.76 234.86h0M774.96 235.43h0M775.16 236.17h0M775.36 236h0M775.56 237.06h0M775.76 237.24h0M775.96 237.3h0M776.16 238.22h0M776.36 238.53h0M776.56 239.21h0M776.76 239.53h0M776.96 239.62h0M777.16 240.11h0M777.36 240.42h0M777.56 240.64h0M777.76 241.2h0M777.96 241.4h0M778.16 242.17h0M778.36 242.61h0M778.56 243.02h0M778.76 243.24h0M778.96 243.85h0M779.16 243.85h0M779.36 244.67h0M779.56 245.11h0M779.76 245.35h0M779.96 245.91h0M780.16 246.18h0M780.36 246.67h0M780.56 246.81h0M780.76 247.36h0M780.96 247.74h0M781.16 248.55h0M781.36 248.71h0M781.56 249.52h0M781.76 249.62h0M781.96 249.92h0M782.16 250.23h0M782.36 251.05h0M782.56 251.33h0M782.76 251.85h0M782.96 252.37h0M783.16 252.81h0M783.36 253.11h0M783.56 253.58h0M783.76 253.94h0M783.96 254.12h0M784.16 254.62h0M784.36 255.3h0M784.56 255.74h0M784.76 255.89h0M784.96 256.66h0M785.16 257.03h0M785.36 257.61h0M785.56 257.93h0M785.76 258.13h0M785.96 258.95h0M786.16 259.09h0M786.36 259.44h0M786.56 259.78h0M786.76 260.45h0M786.96 261.19h0M787.16 261.34h0M787.36 262.07h0M787.56 262.37h0M787.76 262.8h0M787.96 263.23h0M788.16 263.5h0M788.36 264.16h0M788.56 264.53h0M788.76 264.97h0M788.96 265.3h0M789.16 266.04h0M789.36 266.46h0M789.56 266.99h0M789.76 267.46h0M789.96 267.8h0M790.16 268.31h0M790.36 268.78h0M790.56 269.24h0M790.76 269.71h0M790.96 270.18h0M791.16 270.66h0M791.36 271.13h0M791.56 271.6h0M791.76 272.08h0M791.96 272.55h0" fill="none" stroke="#0000ff" stroke-width="7.4" stroke-linecap="round"/>
<circle cx="791.99" cy="272.8" r="3.7" fill="#0000ff"/>
<path d="M126.13 70.7h0M138.69 66.9h0M151.25 62.3h0M163.81 57.7h0M176.37 51.9h0M188.93 48.8h0M201.49 52.1h0M214.05 55.5h0M226.62 55.4h0M239.18 55.2h0M251.74 57.4h0M264.3 54.6h0M276.86 54.6h0M289.42 54.4h0M301.98 54.4h0M314.54 54.4h0M327.1 54.3h0M339.66 54.3h0M352.23 54.3h0M364.79 54.3h0M377.35 54.3h0M389.91 54.3h0M402.47 54.3h0M415.03 54.3h0M427.59 54.3h0M440.15 54.3h0M452.71 54.3h0M465.27 54.3h0M477.84 54.3h0M490.4 54.3h0M502.96 54.3h0M515.52 54.3h0M528.08 54.3h0M540.64 54.3h0" fill="none" stroke="#ff0000" stroke-width="7.4" stroke-linecap="round"/>
<rect x="130.5" y="209.5" width="146" height="49" fill="#fff" stroke="#262626" stroke-width="1" shape-rendering="crispEdges"/>
<circle cx="167.8" cy="223.1" r="3.7" fill="#0000ff"/>
<circle cx="167.8" cy="245.7" r="3.7" fill="#ff0000"/>
<text y="226.4" font-size="15.3" fill="#000"><tspan x="203.84" textLength="29.91" lengthAdjust="spacingAndGlyphs">high</tspan> <tspan x="237.4" textLength="33.05" lengthAdjust="spacingAndGlyphs">freq.</tspan></text>
<text y="249.5" font-size="15.3" fill="#000"><tspan x="203.86" textLength="24.16" lengthAdjust="spacingAndGlyphs">low</tspan> <tspan x="233.41" textLength="31.89" lengthAdjust="spacingAndGlyphs">freq.</tspan></text>
<g shape-rendering="crispEdges" fill="none" stroke-width="1">
<path d="M163.5 361V583M289.5 361V583M415.5 361V583M540.5 361V583M666.5 361V583M115 534.5H791M115 472.5H791M115 409.5H791" stroke="#dfdfdf"/>
<path d="M126.5 584V361M136.5 584V361M144.5 584V361M151.5 584V361M158.5 584V361M201.5 584V361M223.5 584V361M239.5 584V361M251.5 584V361M261.5 584V361M270.5 584V361M277.5 584V361M283.5 584V361M327.5 584V361M349.5 584V361M365.5 584V361M377.5 584V361M387.5 584V361M395.5 584V361M402.5 584V361M409.5 584V361M452.5 584V361M475.5 584V361M490.5 584V361M502.5 584V361M512.5 584V361M521.5 584V361M528.5 584V361M535.5 584V361M578.5 584V361M600.5 584V361M616.5 584V361M628.5 584V361M638.5 584V361M646.5 584V361M654.5 584V361M660.5 584V361M704.5 584V361M726.5 584V361M742.5 584V361M754.5 584V361M764.5 584V361M772.5 584V361M779.5 584V361M786.5 584V361" stroke="#c0c0c0" stroke-dasharray="1 3"/>
<path d="M163.5 583v-6M163.5 361v6M289.5 583v-6M289.5 361v6M415.5 583v-6M415.5 361v6M540.5 583v-6M540.5 361v6M666.5 583v-6M666.5 361v6M791.5 583v-6M791.5 361v6M115 534.5h6M791 534.5h-6M115 472.5h6M791 472.5h-6M115 409.5h6M791 409.5h-6" stroke="#262626"/>
<rect x="114.5" y="360.5" width="677" height="223" stroke="#262626"/>
</g>
<path d="M126.13 583v-3.2M126.13 361v3.2M136.07 583v-3.2M136.07 361v3.2M144.48 583v-3.2M144.48 361v3.2M151.77 583v-3.2M151.77 361v3.2M158.19 583v-3.2M158.19 361v3.2M201.75 583v-3.2M201.75 361v3.2M223.87 583v-3.2M223.87 361v3.2M239.56 583v-3.2M239.56 361v3.2M251.74 583v-3.2M251.74 361v3.2M261.68 583v-3.2M261.68 361v3.2M270.09 583v-3.2M270.09 361v3.2M277.38 583v-3.2M277.38 361v3.2M283.8 583v-3.2M283.8 361v3.2M327.36 583v-3.2M327.36 361v3.2M349.48 583v-3.2M349.48 361v3.2M365.17 583v-3.2M365.17 361v3.2M377.35 583v-3.2M377.35 361v3.2M387.29 583v-3.2M387.29 361v3.2M395.7 583v-3.2M395.7 361v3.2M402.99 583v-3.2M402.99 361v3.2M409.41 583v-3.2M409.41 361v3.2M452.97 583v-3.2M452.97 361v3.2M475.09 583v-3.2M475.09 361v3.2M490.78 583v-3.2M490.78 361v3.2M502.96 583v-3.2M502.96 361v3.2M512.9 583v-3.2M512.9 361v3.2M521.31 583v-3.2M521.31 361v3.2M528.6 583v-3.2M528.6 361v3.2M535.02 583v-3.2M535.02 361v3.2M578.58 583v-3.2M578.58 361v3.2M600.7 583v-3.2M600.7 361v3.2M616.39 583v-3.2M616.39 361v3.2M628.57 583v-3.2M628.57 361v3.2M638.51 583v-3.2M638.51 361v3.2M646.92 583v-3.2M646.92 361v3.2M654.21 583v-3.2M654.21 361v3.2M660.63 583v-3.2M660.63 361v3.2M704.19 583v-3.2M704.19 361v3.2M726.31 583v-3.2M726.31 361v3.2M742 583v-3.2M742 361v3.2M754.18 583v-3.2M754.18 361v3.2M764.12 583v-3.2M764.12 361v3.2M772.53 583v-3.2M772.53 361v3.2M779.82 583v-3.2M779.82 361v3.2M786.24 583v-3.2M786.24 361v3.2" stroke="#262626" stroke-width="1" fill="none"/>
<path d="M415.16 472.68h0M415.36 472.45h0M415.56 472.56h0M415.76 472.39h0M415.96 472.43h0M416.16 472.56h0M416.36 472.46h0M416.56 472.67h0M416.76 472.69h0M416.96 472.45h0M417.16 472.52h0M417.36 472.47h0M417.56 472.59h0M417.76 472.54h0M417.96 472.58h0M418.16 472.5h0M418.36 472.48h0M418.56 472.55h0M418.76 472.7h0M418.96 472.48h0M419.16 472.52h0M419.36 472.55h0M419.56 472.65h0M419.76 472.5h0M419.96 472.64h0M420.16 472.53h0M420.36 472.68h0M420.56 472.59h0M420.76 472.47h0M420.96 472.63h0M421.16 472.6h0M421.36 472.71h0M421.56 472.53h0M421.76 472.76h0M421.96 472.73h0M422.16 472.5h0M422.36 472.5h0M422.56 472.55h0M422.76 472.6h0M422.96 472.68h0M423.16 472.55h0M423.36 472.57h0M423.56 472.8h0M423.76 472.67h0M423.96 472.46h0M424.16 472.6h0M424.36 472.62h0M424.56 472.78h0M424.76 472.57h0M424.96 472.63h0M425.16 472.74h0M425.36 472.6h0M425.56 472.46h0M425.76 472.63h0M425.96 472.54h0M426.16 472.68h0M426.36 472.69h0M426.56 472.52h0M426.76 472.72h0M426.96 472.51h0M427.16 472.62h0M427.36 472.76h0M427.56 472.65h0M427.76 472.7h0M427.96 472.69h0M428.16 472.62h0M428.36 472.55h0M428.56 472.6h0M428.76 472.79h0M428.96 472.85h0M429.16 472.74h0M429.36 472.67h0M429.56 472.74h0M429.76 472.67h0M429.96 472.7h0M430.16 472.68h0M430.36 472.8h0M430.56 472.56h0M430.76 472.7h0M430.96 472.71h0M431.16 472.69h0M431.36 472.7h0M431.56 472.85h0M431.76 472.84h0M431.96 472.78h0M432.16 472.64h0M432.36 472.59h0M432.56 472.74h0M432.76 472.69h0M432.96 472.74h0M433.16 472.76h0M433.36 472.61h0M433.56 472.86h0M433.76 472.84h0M433.96 472.69h0M434.16 472.65h0M434.36 472.76h0M434.56 472.76h0M434.76 472.85h0M434.96 472.77h0M435.16 472.63h0M435.36 472.76h0M435.56 472.75h0M435.76 472.9h0M435.96 472.94h0M436.16 472.73h0M436.36 472.72h0M436.56 472.8h0M436.76 472.66h0M436.96 472.84h0M437.16 472.8h0M437.36 472.8h0M437.56 472.8h0M437.76 472.95h0M437.96 472.78h0M438.16 472.76h0M438.36 472.73h0M438.56 472.81h0M438.76 472.7h0M438.96 472.79h0M439.16 472.91h0M439.36 472.91h0M439.56 472.82h0M439.76 472.61h0M439.96 473.07h0M440.16 472.75h0M440.36 472.91h0M440.56 472.69h0M440.76 472.72h0M440.96 472.95h0M441.16 472.86h0M441.36 473.05h0M441.56 472.91h0M441.76 472.7h0M441.96 472.88h0M442.16 472.84h0M442.36 472.72h0M442.56 472.81h0M442.76 472.84h0M442.96 472.76h0M443.16 472.76h0M443.36 472.77h0M443.56 472.85h0M443.76 472.93h0M443.96 472.7h0M444.16 472.83h0M444.36 472.86h0M444.56 473.01h0M444.76 472.97h0M444.96 472.8h0M445.16 472.77h0M445.36 472.85h0M445.56 472.89h0M445.76 472.83h0M445.96 472.93h0M446.16 472.9h0M446.36 473.01h0M446.56 472.8h0M446.76 473.03h0M446.96 472.89h0M447.16 472.99h0M447.36 472.95h0M447.56 472.93h0M447.76 473.02h0M447.96 472.99h0M448.16 472.81h0M448.36 473.17h0M448.56 473.04h0M448.76 473.06h0M448.96 473.09h0M449.16 473.11h0M449.36 472.86h0M449.56 473h0M449.76 472.78h0M449.96 473.04h0M450.16 473.02h0M450.36 472.92h0M450.56 473.23h0M450.76 473.1h0M450.96 473.09h0M451.16 472.85h0M451.36 473.04h0M451.56 473.03h0M451.76 473.25h0M451.96 473.14h0M452.16 473.12h0M452.36 472.98h0M452.56 473.1h0M452.76 473.29h0M452.96 473.22h0M453.16 473.21h0M453.36 472.79h0M453.56 473.26h0M453.76 473h0M453.96 473.19h0M454.16 472.95h0M454.36 473.09h0M454.56 473.2h0M454.76 472.93h0M454.96 473.11h0M455.16 473.37h0M455.36 473.34h0M455.56 473.05h0M455.76 472.98h0M455.96 472.97h0M456.16 473.07h0M456.36 473.01h0M456.56 473.06h0M456.76 473.08h0M456.96 473.27h0M457.16 473.25h0M457.36 473.09h0M457.56 473.16h0M457.76 473.14h0M457.96 473h0M458.16 473.12h0M458.36 473.14h0M458.56 473.16h0M458.76 473.22h0M458.96 473.19h0M459.16 473.34h0M459.36 473.13h0M459.56 473.12h0M459.76 473.28h0M459.96 473.4h0M460.16 473.21h0M460.36 473.1h0M460.56 473.41h0M460.76 473.19h0M460.96 473.35h0M461.16 473.26h0M461.36 473.22h0M461.56 473.17h0M461.76 473.33h0M461.96 473.39h0M462.16 473.3h0M462.36 473.14h0M462.56 473.29h0M462.76 473.29h0M462.96 473.4h0M463.16 473.23h0M463.36 473.26h0M463.56 473.21h0M463.76 473.25h0M463.96 473.18h0M464.16 473.25h0M464.36 473.2h0M464.56 473.12h0M464.76 473.36h0M464.96 473.24h0M465.16 473.29h0M465.36 473.38h0M465.56 473.27h0M465.76 473.46h0M465.96 473.4h0M466.16 473.36h0M466.36 473.31h0M466.56 473.52h0M466.76 473.41h0M466.96 473.2h0M467.16 473.23h0M467.36 473.35h0M467.56 473.53h0M467.76 473.49h0M467.96 473.43h0M468.16 473.41h0M468.36 473.45h0M468.56 473.49h0M468.76 473.53h0M468.96 473.48h0M469.16 473.42h0M469.36 473.3h0M469.56 473.5h0M469.76 473.36h0M469.96 473.6h0M470.16 473.57h0M470.36 473.45h0M470.56 473.47h0M470.76 473.4h0M470.96 473.36h0M471.16 473.53h0M471.36 473.55h0M471.56 473.55h0M471.76 473.48h0M471.96 473.68h0M472.16 473.74h0M472.36 473.41h0M472.56 473.42h0M472.76 473.66h0M472.96 473.55h0M473.16 473.64h0M473.36 473.7h0M473.56 473.76h0M473.76 473.85h0M473.96 473.53h0M474.16 473.7h0M474.36 473.45h0M474.56 473.58h0M474.76 473.66h0M474.96 473.45h0M475.16 473.55h0M475.36 473.76h0M475.56 473.47h0M475.76 473.52h0M475.96 473.65h0M476.16 473.76h0M476.36 473.67h0M476.56 473.64h0M476.76 473.52h0M476.96 473.65h0M477.16 473.5h0M477.36 473.69h0M477.56 473.63h0M477.76 473.79h0M477.96 473.64h0M478.16 473.7h0M478.36 473.81h0M478.56 473.6h0M478.76 473.85h0M478.96 473.62h0M479.16 473.79h0M479.36 473.7h0M479.56 473.76h0M479.76 473.87h0M479.96 473.73h0M480.16 473.79h0M480.36 473.74h0M480.56 473.74h0M480.76 473.83h0M480.96 473.78h0M481.16 473.83h0M481.36 473.83h0M481.56 473.93h0M481.76 473.95h0M481.96 473.93h0M482.16 473.9h0M482.36 473.85h0M482.56 473.7h0M482.76 473.93h0M482.96 473.8h0M483.16 473.77h0M483.36 473.97h0M483.56 474.11h0M483.76 473.95h0M483.96 473.97h0M484.16 473.93h0M484.36 473.89h0M484.56 473.77h0M484.76 474.12h0M484.96 473.99h0M485.16 473.88h0M485.36 473.97h0M485.56 473.85h0M485.76 473.96h0M485.96 473.91h0M486.16 474.01h0M486.36 474.17h0M486.56 474.09h0M486.76 474.17h0M486.96 474.06h0M487.16 473.91h0M487.36 474.21h0M487.56 474.18h0M487.76 474.01h0M487.96 473.99h0M488.16 473.94h0M488.36 473.9h0M488.56 474.1h0M488.76 474.15h0M488.96 473.97h0M489.16 474.09h0M489.36 474.06h0M489.56 474.16h0M489.76 474.08h0M489.96 474.06h0M490.16 474.15h0M490.36 474.07h0M490.56 474.22h0M490.76 474.19h0M490.96 474.09h0M491.16 474.22h0M491.36 474.39h0M491.56 474.21h0M491.76 474.08h0M491.96 474.28h0M492.16 474.12h0M492.36 474.11h0M492.56 474.4h0M492.76 474.28h0M492.96 474.39h0M493.16 474.27h0M493.36 474.16h0M493.56 474.37h0M493.76 474.31h0M493.96 474.43h0M494.16 474.43h0M494.36 474.32h0M494.56 474.39h0M494.76 474.32h0M494.96 474.35h0M495.16 474.59h0M495.36 474.28h0M495.56 474.29h0M495.76 474.57h0M495.96 474.23h0M496.16 474.29h0M496.36 474.39h0M496.56 474.54h0M496.76 474.38h0M496.96 474.29h0M497.16 474.6h0M497.36 474.62h0M497.56 474.52h0M497.76 474.58h0M497.96 474.5h0M498.16 474.68h0M498.36 474.63h0M498.56 474.62h0M498.76 474.38h0M498.96 474.46h0M499.16 474.51h0M499.36 474.53h0M499.56 474.51h0M499.76 474.59h0M499.96 474.78h0M500.16 474.57h0M500.36 474.57h0M500.56 474.59h0M500.76 474.49h0M500.96 474.61h0M501.16 474.71h0M501.36 474.65h0M501.56 474.82h0M501.76 474.66h0M501.96 474.7h0M502.16 474.6h0M502.36 474.8h0M502.56 474.62h0M502.76 474.82h0M502.96 474.78h0M503.16 474.91h0M503.36 474.87h0M503.56 474.68h0M503.76 474.76h0M503.96 474.9h0M504.16 474.9h0M504.36 474.82h0M504.56 474.82h0M504.76 474.83h0M504.96 474.91h0M505.16 474.79h0M505.36 474.93h0M505.56 475.02h0M505.76 474.94h0M505.96 474.94h0M506.16 474.99h0M506.36 474.94h0M506.56 474.96h0M506.76 474.9h0M506.96 475.09h0M507.16 475.01h0M507.36 475.11h0M507.56 474.95h0M507.76 475.06h0M507.96 475.08h0M508.16 475.1h0M508.36 474.97h0M508.56 474.99h0M508.76 475.33h0M508.96 475.1h0M509.16 475.02h0M509.36 474.97h0M509.56 474.89h0M509.76 475.2h0M509.96 475.29h0M510.16 474.95h0M510.36 475.23h0M510.56 475.3h0M510.76 475.25h0M510.96 475.41h0M511.16 475.19h0M511.36 475.2h0M511.56 475.22h0M511.76 475.44h0M511.96 475.13h0M512.16 475.12h0M512.36 475.4h0M512.56 475.51h0M512.76 475.29h0M512.96 475.39h0M513.16 475.29h0M513.36 475.2h0M513.56 475.33h0M513.76 475.29h0M513.96 475.34h0M514.16 475.43h0M514.36 475.55h0M514.56 475.56h0M514.76 475.53h0M514.96 475.51h0M515.16 475.36h0M515.36 475.41h0M515.56 475.55h0M515.76 475.61h0M515.96 475.28h0M516.16 475.63h0M516.36 475.7h0M516.56 475.49h0M516.76 475.45h0M516.96 475.59h0M517.16 475.86h0M517.36 475.7h0M517.56 475.53h0M517.76 475.87h0M517.96 475.82h0M518.16 475.71h0M518.36 475.74h0M518.56 475.68h0M518.76 475.56h0M518.96 475.78h0M519.16 475.67h0M519.36 475.75h0M519.56 475.76h0M519.76 475.69h0M519.96 475.87h0M520.16 475.67h0M520.36 475.71h0M520.56 475.71h0M520.76 476h0M520.96 475.8h0M521.16 475.97h0M521.36 475.86h0M521.56 475.98h0M521.76 476.13h0M521.96 476h0M522.16 476.06h0M522.36 475.9h0M522.56 476.14h0M522.76 476.03h0M522.96 476.09h0M523.16 476.05h0M523.36 476.24h0M523.56 475.99h0M523.76 475.85h0M523.96 476.08h0M524.16 476.24h0M524.36 476.37h0M524.56 476.24h0M524.76 476.39h0M524.96 476.33h0M525.16 476.27h0M525.36 476.28h0M525.56 476.35h0M525.76 476.26h0M525.96 476.41h0M526.16 476.38h0M526.36 476.34h0M526.56 476.24h0M526.76 476.45h0M526.96 476.13h0M527.16 476.32h0M527.36 476.63h0M527.56 476.35h0M527.76 476.6h0M527.96 476.5h0M528.16 476.48h0M528.36 476.48h0M528.56 476.52h0M528.76 476.33h0M528.96 476.44h0M529.16 476.67h0M529.36 476.79h0M529.56 476.51h0M529.76 476.43h0M529.96 476.73h0M530.16 476.54h0M530.36 476.71h0M530.56 476.73h0M530.76 476.9h0M530.96 476.67h0M531.16 476.88h0M531.36 476.82h0M531.56 476.73h0M531.76 476.7h0M531.96 476.84h0M532.16 476.81h0M532.36 476.59h0M532.56 476.87h0M532.76 477.02h0M532.96 477h0M533.16 476.71h0M533.36 477.29h0M533.56 477.08h0M533.76 476.86h0M533.96 476.71h0M534.16 477h0M534.36 477.35h0M534.56 476.94h0M534.76 477.16h0M534.96 476.79h0M535.16 476.88h0M535.36 477.14h0M535.56 477.11h0M535.76 477.22h0M535.96 477.45h0M536.16 477.24h0M536.36 477.39h0M536.56 477.09h0M536.76 477.27h0M536.96 477.23h0M537.16 477.52h0M537.36 477.3h0M537.56 477.1h0M537.76 476.98h0M537.96 477.3h0M538.16 477.18h0M538.36 477.57h0M538.56 477.46h0M538.76 477.21h0M538.96 477.6h0M539.16 477.28h0M539.36 477.57h0M539.56 477.33h0M539.76 477.39h0M539.96 477.57h0M540.16 477.3h0M540.36 477.42h0M540.56 477.53h0M540.76 477.79h0M540.96 477.37h0M541.16 477.61h0M541.36 477.51h0M541.56 477.67h0M541.76 477.91h0M541.96 477.67h0M542.16 477.9h0M542.36 477.55h0M542.56 478.01h0M542.76 478.09h0M542.96 477.71h0M543.16 477.75h0M543.36 477.78h0M543.56 478.3h0M543.76 478.25h0M543.96 478.01h0M544.16 478.01h0M544.36 478.12h0M544.56 477.97h0M544.76 478.05h0M544.96 478.37h0M545.16 478.12h0M545.36 478.51h0M545.56 478.35h0M545.76 478.09h0M545.96 478.57h0M546.16 478.52h0M546.36 478.13h0M546.56 478.34h0M546.76 478.39h0M546.96 478.65h0M547.16 478.62h0M547.36 478.49h0M547.56 478.71h0M547.76 478.77h0M547.96 478.2h0M548.16 478.66h0M548.36 478.87h0M548.56 478.43h0M548.76 478.74h0M548.96 478.53h0M549.16 478.5h0M549.36 478.95h0M549.56 478.75h0M549.76 478.44h0M549.96 479.21h0M550.16 478.89h0M550.36 478.43h0M550.56 478.25h0M550.76 478.88h0M550.96 478.44h0M551.16 479.07h0M551.36 479.5h0M551.56 478.88h0M551.76 479.05h0M551.96 479.02h0M552.16 478.82h0M552.36 479.08h0M552.56 479h0M552.76 478.9h0M552.96 479.41h0M553.16 478.83h0M553.36 478.92h0M553.56 479.34h0M553.76 478.93h0M553.96 479.48h0M554.16 479.63h0M554.36 478.95h0M554.56 478.78h0M554.76 479.48h0M554.96 479.51h0M555.16 479.18h0M555.36 479.99h0M555.56 479.12h0M555.76 479.02h0M555.96 480.01h0M556.16 479.67h0M556.36 479.71h0M556.56 479.3h0M556.76 479.25h0M556.96 479.72h0M557.16 479.26h0M557.36 479.26h0M557.56 479.33h0M557.76 479.6h0M557.96 479.74h0M558.16 479.5h0M558.36 479.71h0M558.56 480.44h0M558.76 479.94h0M558.96 479.68h0M559.16 480.18h0M559.36 479.85h0M559.56 480.16h0M559.76 480.28h0M559.96 480.15h0M560.16 479.57h0M560.36 480.26h0M560.56 480.16h0M560.76 479.66h0M560.96 479.61h0M561.16 480.66h0M561.36 480.37h0M561.56 480.32h0M561.76 480.55h0M561.96 479.6h0M562.16 480.48h0M562.36 481.05h0M562.56 479.91h0M562.76 480.13h0M562.96 480.33h0M563.16 481.1h0M563.36 480.85h0M563.56 480.72h0M563.76 480.02h0M563.96 480.26h0M564.16 481.13h0M564.36 480.94h0M564.56 481.26h0M564.76 480.3h0M564.96 480.7h0M565.16 480.06h0M565.36 481.03h0M565.56 480.12h0M565.76 482.05h0M565.96 480.69h0M566.16 480.84h0M566.36 481.31h0M566.56 481.4h0M566.76 481.24h0M566.96 481.74h0M567.16 481.02h0M567.36 480.97h0M567.56 481.68h0M567.76 481.15h0M567.96 480.63h0M568.16 481.52h0M568.36 481.79h0M568.56 481h0M568.76 481.7h0M568.96 481.07h0M569.16 481.85h0M569.36 481.98h0M569.56 481.95h0M569.76 481.64h0M569.96 481.75h0M570.16 482.18h0M570.36 481.92h0M570.56 481.68h0M570.76 481.99h0M570.96 481.71h0M571.16 481.36h0M571.36 482.37h0M571.56 481.28h0M571.76 481.15h0M571.96 482.22h0M572.16 481.4h0M572.36 482.1h0M572.56 481.98h0M572.76 482.58h0M572.96 482.01h0M573.16 481.91h0M573.36 482.3h0M573.56 482.64h0M573.76 482.18h0M573.96 482.3h0M574.16 482.39h0M574.36 482.4h0M574.56 482.31h0M574.76 481.9h0M574.96 482.09h0M575.16 482.93h0M575.36 482.48h0M575.56 482.41h0M575.76 482.52h0M575.96 482.54h0M576.16 482.84h0M576.36 482.86h0M576.56 483.35h0M576.76 482.69h0M576.96 482.95h0M577.16 482.45h0M577.36 483.08h0M577.56 483.51h0M577.76 483.09h0M577.96 483.29h0M578.16 483.31h0M578.36 482.72h0M578.56 483.09h0M578.76 482.96h0M578.96 483.85h0M579.16 483.48h0M579.36 483.65h0M579.56 482.95h0M579.76 484.18h0M579.96 483.52h0M580.16 483.03h0M580.36 483.68h0M580.56 484.12h0M580.76 484.24h0M580.96 483.54h0M581.16 483.83h0M581.36 483.82h0M581.56 484.03h0M581.76 483.67h0M581.96 483.57h0M582.16 484.23h0M582.36 483.82h0M582.56 484.08h0M582.76 483.93h0M582.96 484.1h0M583.16 483.62h0M583.36 483.94h0M583.56 484.21h0M583.76 484.38h0M583.96 483.3h0M584.16 484.17h0M584.36 485.01h0M584.56 483.74h0M584.76 483.78h0M584.96 484.52h0M585.16 484.35h0M585.36 485.24h0M585.56 485.13h0M585.76 485.36h0M585.96 485.56h0M586.16 485.33h0M586.36 484.35h0M586.56 485.41h0M586.76 484.57h0M586.96 485.09h0M587.16 484.76h0M587.36 485.23h0M587.56 485.59h0M587.76 484.98h0M587.96 486.26h0M588.16 485.33h0M588.36 485.73h0M588.56 486.5h0M588.76 486.17h0M588.96 485.61h0M589.16 485.01h0M589.36 485.55h0M589.56 485.77h0M589.76 485.89h0M589.96 486.07h0M590.16 485.99h0M590.36 486.32h0M590.56 485.36h0M590.76 485.27h0M590.96 485.75h0M591.16 486.08h0M591.36 485.16h0M591.56 486.16h0M591.76 486.07h0M591.96 487.52h0M592.16 486.26h0M592.36 485.81h0M592.56 486.72h0M592.76 486.49h0M592.96 486.51h0M593.16 486.21h0M593.36 485.74h0M593.56 487.37h0M593.76 485.79h0M593.96 486.53h0M594.16 486.88h0M594.36 488.05h0M594.56 487.25h0M594.76 487.86h0M594.96 487.76h0M595.16 486.86h0M595.36 487.23h0M595.56 486.91h0M595.76 488.57h0M595.96 488.31h0M596.16 486.6h0M596.36 487.1h0M596.56 486.71h0M596.76 486.3h0M596.96 486.42h0M597.16 486.83h0M597.36 486.99h0M597.56 488.2h0M597.76 488.01h0M597.96 488.13h0M598.16 487.32h0M598.36 488.03h0M598.56 487.81h0M598.76 488.07h0M598.96 488.06h0M599.16 489.09h0M599.36 488.46h0M599.56 488.77h0M599.76 488.99h0M599.96 488.83h0M600.16 488.3h0M600.36 487.34h0M600.56 489.03h0M600.76 489.04h0M600.96 488.69h0M601.16 488.57h0M601.36 488h0M601.56 487.99h0M601.76 489.45h0M601.96 488.86h0M602.16 487.95h0M602.36 489.09h0M602.56 489.95h0M602.76 488.64h0M602.96 488.3h0M603.16 490.6h0M603.36 489.95h0M603.56 488.34h0M603.76 489.89h0M603.96 489.73h0M604.16 490.99h0M604.36 489.86h0M604.56 488.78h0M604.76 490.02h0M604.96 489.75h0M605.16 489.8h0M605.36 488.55h0M605.56 488.93h0M605.76 489.41h0M605.96 489.08h0M606.16 490.32h0M606.36 491.27h0M606.56 488.98h0M606.76 490.28h0M606.96 490.61h0M607.16 491.39h0M607.36 491.49h0M607.56 490.68h0M607.76 490.58h0M607.96 489.68h0M608.16 490.3h0M608.36 490.48h0M608.56 491.9h0M608.76 491.37h0M608.96 490.52h0M609.16 492.07h0M609.36 492h0M609.56 492.36h0M609.76 492.01h0M609.96 491h0M610.16 490.9h0M610.36 492.12h0M610.56 491.24h0M610.76 491.21h0M610.96 491.17h0M611.16 492.24h0M611.36 491.89h0M611.56 492.05h0M611.76 492.86h0M611.96 491.27h0M612.16 492.16h0M612.36 491.44h0M612.56 492.31h0M612.76 491.3h0M612.96 491.56h0M613.16 492.74h0M613.36 492.55h0M613.56 492.67h0M613.76 492.35h0M613.96 491.82h0M614.16 492.56h0M614.36 492.9h0M614.56 492.89h0M614.76 493.09h0M614.96 493.14h0M615.16 493.13h0M615.36 493.88h0M615.56 494.5h0M615.76 493.35h0M615.96 494.19h0M616.16 492.13h0M616.36 492.36h0M616.56 493.8h0M616.76 494.08h0M616.96 493.36h0M617.16 493.48h0M617.36 494.19h0M617.56 494.92h0M617.76 494.07h0M617.96 494.72h0M618.16 495.11h0M618.36 494.72h0M618.56 493.13h0M618.76 494.36h0M618.96 495.64h0M619.16 494.01h0M619.36 494.71h0M619.56 494.27h0M619.76 494.96h0M619.96 495.01h0M620.16 495.23h0M620.36 494.57h0M620.56 495.25h0M620.76 495.89h0M620.96 495.14h0M621.16 495.69h0M621.36 494.54h0M621.56 496.15h0M621.76 495.07h0M621.96 494.77h0M622.16 494.96h0M622.36 496.45h0M622.56 495.84h0M622.76 495.49h0M622.96 495.77h0M623.16 496.19h0M623.36 497h0M623.56 495.78h0M623.76 495.71h0M623.96 495.27h0M624.16 495.7h0M624.36 495.78h0M624.56 495.7h0M624.76 497.04h0M624.96 496.63h0M625.16 495.88h0M625.36 496.26h0M625.56 496.96h0M625.76 496.69h0M625.96 496.9h0M626.16 497.14h0M626.36 497.91h0M626.56 497.79h0M626.76 496.96h0M626.96 497.89h0M627.16 497.45h0M627.36 496.83h0M627.56 497.35h0M627.76 498.29h0M627.96 496.49h0M628.16 497.84h0M628.36 497.67h0M628.56 498.44h0M628.76 498.31h0M628.96 497.2h0M629.16 498.95h0M629.36 498.06h0M629.56 498.22h0M629.76 498.29h0M629.96 497.9h0M630.16 498.72h0M630.36 498.02h0M630.56 497.9h0M630.76 498.56h0M630.96 498.78h0M631.16 500.02h0M631.36 499.22h0M631.56 498.96h0M631.76 498.8h0M631.96 499.58h0M632.16 498.77h0M632.36 499.61h0M632.56 499.82h0M632.76 498.82h0M632.96 499.08h0M633.16 499.74h0M633.36 499.67h0M633.56 499.53h0M633.76 500.95h0M633.96 500.36h0M634.16 500.82h0M634.36 501.38h0M634.56 499.45h0M634.76 500.69h0M634.96 499.77h0M635.16 501h0M635.36 501.2h0M635.56 501.16h0M635.76 500.86h0M635.96 500.72h0M636.16 501.1h0M636.36 501.24h0M636.56 500.87h0M636.76 500.16h0M636.96 501.36h0M637.16 500.28h0M637.36 501.86h0M637.56 502.12h0M637.76 501.34h0M637.96 502.59h0M638.16 501.97h0M638.36 501.07h0M638.56 501.96h0M638.76 502.72h0M638.96 501.61h0M639.16 502.04h0M639.36 502.09h0M639.56 501.79h0M639.76 502.76h0M639.96 503.28h0M640.16 502.48h0M640.36 502.96h0M640.56 503.14h0M640.76 503.37h0M640.96 503.03h0M641.16 502.56h0M641.36 503h0M641.56 502.71h0M641.76 503.32h0M641.96 504.09h0M642.16 503.77h0M642.36 504.21h0M642.56 503.4h0M642.76 503.77h0M642.96 503.66h0M643.16 504.16h0M643.36 504.35h0M643.56 503.52h0M643.76 503.71h0M643.96 504.35h0M644.16 504.37h0M644.36 504.58h0M644.56 504.83h0M644.76 505.39h0M644.96 503.72h0M645.16 503.77h0M645.36 505.64h0M645.56 504.92h0M645.76 504.97h0M645.96 504.82h0M646.16 505h0M646.36 505.32h0M646.56 505.33h0M646.76 505.49h0M646.96 505.45h0M647.16 505.77h0M647.36 506.45h0M647.56 505.89h0M647.76 506.54h0M647.96 505.55h0M648.16 506.54h0M648.36 505.97h0M648.56 506.68h0M648.76 506.78h0M648.96 506.37h0M649.16 506.45h0M649.36 506.75h0M649.56 506.81h0M649.76 506.12h0M649.96 507.23h0M650.16 507.6h0M650.36 507.13h0M650.56 507.47h0M650.76 506.63h0M650.96 508.01h0M651.16 507.97h0M651.36 507.41h0M651.56 507.15h0M651.76 507.46h0M651.96 507.63h0M652.16 507.66h0M652.36 507.93h0M652.56 507.9h0M652.76 508.16h0M652.96 508.38h0M653.16 507.98h0M653.36 507.86h0M653.56 507.77h0M653.76 508.63h0M653.96 508.6h0M654.16 508.79h0M654.36 509.4h0M654.56 508.3h0M654.76 508.64h0M654.96 508.79h0M655.16 509.21h0M655.36 509.81h0M655.56 509.07h0M655.76 509.21h0M655.96 509.62h0M656.16 510.11h0M656.36 509.85h0M656.56 510.3h0M656.76 509.98h0M656.96 509.12h0M657.16 509.86h0M657.36 510.66h0M657.56 511.32h0M657.76 509.23h0M657.96 509.5h0M658.16 509.99h0M658.36 510.12h0M658.56 509.97h0M658.76 511.22h0M658.96 510.34h0M659.16 511.73h0M659.36 510.73h0M659.56 510.94h0M659.76 510.73h0M659.96 511.15h0M660.16 511.29h0M660.36 511.57h0M660.56 511.42h0M660.76 512.03h0M660.96 511.22h0M661.16 511.87h0M661.36 511.75h0M661.56 511.4h0M661.76 511.83h0M661.96 512.28h0M662.16 512.88h0M662.36 512.42h0M662.56 512.51h0M662.76 512.88h0M662.96 512.87h0M663.16 512.65h0M663.36 512.25h0M663.56 512.64h0M663.76 513.65h0M663.96 512.55h0M664.16 513.46h0M664.36 513.46h0M664.56 513.28h0M664.76 513.58h0M664.96 513.12h0M665.16 513.5h0M665.36 513.66h0M665.56 514.13h0M665.76 514.49h0M665.96 513.47h0M666.16 513.87h0M666.36 513.92h0M666.56 514.49h0M666.76 513.99h0M666.96 514.21h0M667.16 514.97h0M667.36 514.6h0M667.56 514.9h0M667.76 515.46h0M667.96 515.23h0M668.16 514.45h0M668.36 515.09h0M668.56 515.66h0M668.76 515.32h0M668.96 515.33h0M669.16 515.73h0M669.36 516.25h0M669.56 515.63h0M669.76 515.72h0M669.96 516.31h0M670.16 516.55h0M670.36 516.16h0M670.56 515.99h0M670.76 515.92h0M670.96 516.26h0M671.16 516.6h0M671.36 515.98h0M671.56 516.52h0M671.76 516.82h0M671.96 517.06h0M672.16 517h0M672.36 516.6h0M672.56 517.59h0M672.76 516.82h0M672.96 516.87h0M673.16 517.05h0M673.36 516.92h0M673.56 517.5h0M673.76 518.09h0M673.96 518.15h0M674.16 517.12h0M674.36 518.34h0M674.56 518.31h0M674.76 518.13h0M674.96 518.38h0M675.16 518.25h0M675.36 518.42h0M675.56 518.9h0M675.76 518.35h0M675.96 518.14h0M676.16 518.58h0M676.36 518.76h0M676.56 519.13h0M676.76 519.17h0M676.96 519.29h0M677.16 518.9h0M677.36 519.89h0M677.56 519.21h0M677.76 518.85h0M677.96 519.95h0M678.16 519.3h0M678.36 519.86h0M678.56 519.39h0M678.76 519.93h0M678.96 520.13h0M679.16 520.15h0M679.36 520.27h0M679.56 520.53h0M679.76 520.42h0M679.96 520.95h0M680.16 520.77h0M680.36 520.61h0M680.56 520.96h0M680.76 520.73h0M680.96 520.63h0M681.16 521.18h0M681.36 521.03h0M681.56 521.14h0M681.76 520.92h0M681.96 521.84h0M682.16 521.69h0M682.36 521.04h0M682.56 522.25h0M682.76 521.99h0M682.96 521.61h0M683.16 521.74h0M683.36 522.32h0M683.56 521.86h0M683.76 522.31h0M683.96 522.05h0M684.16 522.37h0M684.36 522.97h0M684.56 523.09h0M684.76 522.37h0M684.96 522.66h0M685.16 522.88h0M685.36 523.38h0M685.56 522.65h0M685.76 523.02h0M685.96 523.47h0M686.16 522.99h0M686.36 523.66h0M686.56 523.64h0M686.76 523.72h0M686.96 523.27h0M687.16 523.99h0M687.36 523.92h0M687.56 523.7h0M687.76 523.98h0M687.96 524.42h0M688.16 524.18h0M688.36 524.22h0M688.56 524.5h0M688.76 524.61h0M688.96 524.63h0M689.16 524.82h0M689.36 525.1h0M689.56 525.06h0M689.76 525.47h0M689.96 525.2h0M690.16 525.76h0M690.36 525.24h0M690.56 525.67h0M690.76 525.79h0M690.96 525.5h0M691.16 525.73h0M691.36 525.75h0M691.56 525.63h0M691.76 526.22h0M691.96 526.36h0M692.16 526.47h0M692.36 526.1h0M692.56 526.44h0M692.76 526.78h0M692.96 526.52h0M693.16 527.03h0M693.36 526.69h0M693.56 527.04h0M693.76 527.09h0M693.96 526.69h0M694.16 526.86h0M694.36 527.13h0M694.56 527.36h0M694.76 527.5h0M694.96 527.85h0M695.16 527.76h0M695.36 527.57h0M695.56 527.78h0M695.76 527.94h0M695.96 528.17h0M696.16 527.87h0M696.36 528.65h0M696.56 528.28h0M696.76 528.27h0M696.96 528.6h0M697.16 528.79h0M697.36 528.62h0M697.56 528.8h0M697.76 529.22h0M697.96 528.91h0M698.16 528.88h0M698.36 528.8h0M698.56 529.51h0M698.76 529.17h0M698.96 529.47h0M699.16 529.43h0M699.36 529.57h0M699.56 529.97h0M699.76 530.16h0M699.96 529.79h0M700.16 529.57h0M700.36 530.66h0M700.56 530.62h0M700.76 530.24h0M700.96 530.42h0M701.16 530.62h0M701.36 530.43h0M701.56 530.84h0M701.76 530.6h0M701.96 531.06h0M702.16 530.9h0M702.36 531.31h0M702.56 531.1h0M702.76 531.32h0M702.96 531.67h0M703.16 531.34h0M703.36 531.37h0M703.56 531.77h0M703.76 531.93h0M703.96 531.97h0M704.16 532.42h0M704.36 531.69h0M704.56 532.43h0M704.76 532.41h0M704.96 532.44h0M705.16 532.25h0M705.36 532.73h0M705.56 532.82h0M705.76 532.48h0M705.96 533h0M706.16 532.88h0M706.36 532.96h0M706.56 532.85h0M706.76 533.27h0M706.96 533.25h0M707.16 533.59h0M707.36 533.34h0M707.56 533.75h0M707.76 533.33h0M707.96 534h0M708.16 534h0M708.36 533.8h0M708.56 534.01h0M708.76 534.33h0M708.96 534.29h0M709.16 534.19h0M709.36 534.63h0M709.56 534.58h0M709.76 534.54h0M709.96 534.86h0M710.16 534.93h0M710.36 535.05h0M710.56 535.04h0M710.76 535.31h0M710.96 535.39h0M711.16 535.4h0M711.36 535.18h0M711.56 535.91h0M711.76 535.63h0M711.96 535.64h0M712.16 535.64h0M712.36 536.12h0M712.56 535.89h0M712.76 536.45h0M712.96 536.33h0M713.16 536.35h0M713.36 536.51h0M713.56 536.6h0M713.76 536.46h0M713.96 536.89h0M714.16 537.23h0M714.36 537.16h0M714.56 537.16h0M714.76 537.28h0M714.96 537.21h0M715.16 537.73h0M715.36 537.56h0M715.56 537.42h0M715.76 537.62h0M715.96 537.87h0M716.16 538.05h0M716.36 537.95h0M716.56 538.23h0M716.76 538.34h0M716.96 538.49h0M717.16 538.49h0M717.36 538.57h0M717.56 538.84h0M717.76 538.55h0M717.96 538.43h0M718.16 538.6h0M718.36 539.27h0M718.56 539.25h0M718.76 538.98h0M718.96 539.37h0M719.16 539.64h0M719.36 539.77h0M719.56 539.8h0M719.76 539.82h0M719.96 539.79h0M720.16 539.97h0M720.36 539.96h0M720.56 540.06h0M720.76 540.29h0M720.96 540.4h0M721.16 540.58h0M721.36 540.75h0M721.56 540.82h0M721.76 541.01h0M721.96 540.89h0M722.16 540.94h0M722.36 541.23h0M722.56 541.45h0M722.76 541.52h0M722.96 541.66h0M723.16 541.72h0M723.36 541.71h0M723.56 541.77h0M723.76 541.89h0M723.96 541.85h0M724.16 542.13h0M724.36 542.07h0M724.56 542.14h0M724.76 542.41h0M724.96 542.58h0M725.16 542.73h0M725.36 542.65h0M725.56 542.9h0M725.76 542.89h0M725.96 543h0M726.16 543.28h0M726.36 543.16h0M726.56 543.26h0M726.76 543.59h0M726.96 543.56h0M727.16 543.7h0M727.36 543.65h0M727.56 543.71h0M727.76 544.07h0M727.96 543.87h0M728.16 544.38h0M728.36 544.33h0M728.56 544.32h0M728.76 544.62h0M728.96 544.75h0M729.16 544.68h0M729.36 544.95h0M729.56 545.01h0M729.76 544.81h0M729.96 545.23h0M730.16 545.24h0M730.36 545.56h0M730.56 545.45h0M730.76 545.62h0M730.96 545.68h0M731.16 546.1h0M731.36 545.95h0M731.56 546.03h0M731.76 546.07h0M731.96 546.26h0M732.16 546.46h0M732.36 546.46h0M732.56 546.44h0M732.76 546.59h0M732.96 546.93h0M733.16 546.92h0M733.36 547.03h0M733.56 547.27h0M733.76 547.41h0M733.96 547.32h0M734.16 547.59h0M734.36 547.69h0M734.56 547.63h0M734.76 547.83h0M734.96 547.97h0M735.16 548.04h0M735.36 548.14h0M735.56 548.24h0M735.76 548.49h0M735.96 548.57h0M736.16 548.74h0M736.36 548.61h0M736.56 548.93h0M736.76 548.91h0M736.96 549.15h0M737.16 549.16h0M737.36 549.29h0M737.56 549.38h0M737.76 549.33h0M737.96 549.5h0M738.16 549.73h0M738.36 549.85h0M738.56 550.02h0M738.76 550.02h0M738.96 550.11h0M739.16 550.3h0M739.36 550.5h0M739.56 550.46h0M739.76 550.63h0M739.96 550.87h0M740.16 550.83h0M740.36 550.87h0M740.56 551.09h0M740.76 551.2h0M740.96 551.38h0M741.16 551.38h0M741.36 551.54h0M741.56 551.66h0M741.76 551.93h0M741.96 551.86h0M742.16 551.9h0M742.36 552.1h0M742.56 552.25h0M742.76 552.26h0M742.96 552.47h0M743.16 552.61h0M743.36 552.79h0M743.56 552.79h0M743.76 553.01h0M743.96 553.26h0M744.16 553.37h0M744.36 553.27h0M744.56 553.59h0M744.76 553.57h0M744.96 553.76h0M745.16 553.7h0M745.36 554.09h0M745.56 553.98h0M745.76 554.17h0M745.96 554.26h0M746.16 554.17h0M746.36 554.41h0M746.56 554.67h0M746.76 554.84h0M746.96 554.93h0M747.16 555.11h0M747.36 555.13h0M747.56 555.36h0M747.76 555.27h0M747.96 555.39h0M748.16 555.5h0M748.36 555.59h0M748.56 555.83h0M748.76 555.94h0M748.96 555.96h0M749.16 556.04h0M749.36 556.3h0M749.56 556.5h0M749.76 556.54h0M749.96 556.73h0M750.16 556.87h0M750.36 556.91h0M750.56 557.12h0M750.76 557.06h0M750.96 557.34h0M751.16 557.39h0M751.36 557.38h0M751.56 557.6h0M751.76 557.83h0M751.96 557.82h0M752.16 558.04h0M752.36 558.19h0M752.56 558.23h0M752.76 558.41h0M752.96 558.62h0M753.16 558.77h0M753.36 558.67h0M753.56 558.73h0M753.76 558.93h0M753.96 559.11h0M754.16 559.22h0M754.36 559.34h0M754.56 559.38h0M754.76 559.63h0M754.96 559.81h0M755.16 559.92h0M755.36 560.05h0M755.56 560h0M755.76 560.3h0M755.96 560.49h0M756.16 560.49h0M756.36 560.64h0M756.56 560.8h0M756.76 560.81h0M756.96 560.83h0M757.16 560.98h0M757.36 561.27h0M757.56 561.29h0M757.76 561.41h0M757.96 561.69h0M758.16 561.75h0M758.36 561.79h0M758.56 561.98h0M758.76 562.25h0M758.96 562.28h0M759.16 562.37h0M759.36 562.58h0M759.56 562.77h0M759.76 562.76h0M759.96 562.81h0M760.16 563.06h0M760.36 563.2h0M760.56 563.28h0M760.76 563.41h0M760.96 563.58h0M761.16 563.72h0M761.36 563.86h0M761.56 563.91h0M761.76 563.86h0M761.96 564.19h0M762.16 564.29h0M762.36 564.3h0M762.56 564.55h0M762.76 564.66h0M762.96 564.75h0M763.16 565.01h0M763.36 565.04h0M763.56 565.26h0M763.76 565.32h0M763.96 565.38h0M764.16 565.7h0M764.36 565.74h0M764.56 565.82h0M764.76 565.95h0M764.96 566.21h0M765.16 566.12h0M765.36 566.32h0M765.56 566.38h0M765.76 566.63h0M765.96 566.7h0M766.16 566.93h0M766.36 566.96h0M766.56 567.2h0M766.76 567.24h0M766.96 567.36h0M767.16 567.58h0M767.36 567.58h0M767.56 567.82h0M767.76 568h0M767.96 567.99h0M768.16 568.22h0M768.36 568.33h0M768.56 568.37h0M768.76 568.56h0M768.96 568.73h0M769.16 568.75h0M769.36 569.06h0M769.56 569.14h0M769.76 569.35h0M769.96 569.45h0M770.16 569.48h0M770.36 569.67h0M770.56 569.79h0M770.76 569.93h0M770.96 570.07h0M771.16 570.2h0M771.36 570.34h0M771.56 570.39h0M771.76 570.58h0M771.96 570.61h0M772.16 570.95h0M772.36 571.04h0M772.56 571.11h0M772.76 571.39h0M772.96 571.47h0M773.16 571.59h0M773.36 571.8h0M773.56 571.73h0M773.76 572.06h0M773.96 572.14h0M774.16 572.26h0M774.36 572.5h0M774.56 572.5h0M774.76 572.73h0M774.96 572.78h0M775.16 572.84h0M775.36 573.07h0M775.56 573.31h0M775.76 573.28h0M775.96 573.41h0M776.16 573.72h0M776.36 573.7h0M776.56 573.95h0M776.76 573.93h0M776.96 574.09h0M777.16 574.35h0M777.36 574.48h0M777.56 574.66h0M777.76 574.79h0M777.96 574.82h0M778.16 574.98h0M778.36 575.14h0M778.56 575.33h0M778.76 575.37h0M778.96 575.51h0M779.16 575.69h0M779.36 575.8h0M779.56 575.85h0M779.76 576.02h0M779.96 576.38h0M780.16 576.41h0M780.36 576.6h0M780.56 576.67h0M780.76 576.86h0M780.96 576.94h0M781.16 577.14h0M781.36 577.19h0M781.56 577.33h0M781.76 577.52h0M781.96 577.66h0M782.16 577.72h0M782.36 577.87h0M782.56 578.1h0M782.76 578.31h0M782.96 578.35h0M783.16 578.56h0M783.36 578.62h0M783.56 578.76h0M783.76 578.99h0M783.96 579.12h0M784.16 579.28h0M784.36 579.3h0M784.56 579.64h0M784.76 579.52h0M784.96 579.86h0M785.16 579.98h0M785.36 580.05h0M785.56 580.27h0M785.76 580.35h0M785.96 580.56h0M786.16 580.73h0M786.36 580.84h0M786.56 581.05h0M786.76 581.14h0M786.96 581.23h0M787.16 581.34h0M787.36 581.56h0M787.56 581.65h0M787.76 581.88h0M787.96 582.04h0M788.16 582.16h0M788.36 582.27h0M788.56 582.42h0M788.76 582.56h0M788.96 582.71h0M789.16 582.86h0M789.36 583h0M789.56 583.15h0M789.76 583.3h0M789.96 583.45h0M790.16 583.59h0" fill="none" stroke="#0000ff" stroke-width="7.4" stroke-linecap="round"/>
<circle cx="790.7" cy="360.1" r="3.7" fill="#0000ff"/><circle cx="792.2" cy="361.3" r="3.7" fill="#0000ff"/>
<path d="M126.13 475.5h0M138.69 476.4h0M151.25 477.1h0M163.81 477.1h0M176.37 475.7h0M188.93 472.6h0M201.49 468.9h0M214.05 471.5h0M226.62 471.5h0M239.18 471.5h0M251.74 471.1h0M264.3 471.5h0M276.86 471.3h0M289.42 471.4h0M301.98 471.5h0M314.54 471.6h0M327.1 471.7h0M339.66 471.8h0M352.23 471.9h0M364.79 472h0M377.35 472.1h0M389.91 472.2h0M402.47 472.3h0M415.03 472.4h0M427.59 472.66h0M440.15 472.83h0M452.71 473.04h0M465.27 473.33h0M477.84 473.69h0M490.4 474.16h0M502.96 474.76h0M515.52 475.51h0M528.08 476.46h0M540.64 477.65h0" fill="none" stroke="#ff0000" stroke-width="7.4" stroke-linecap="round"/>
<rect x="130.5" y="520.5" width="146" height="50" fill="#fff" stroke="#262626" stroke-width="1" shape-rendering="crispEdges"/>
<circle cx="167.8" cy="534.1" r="3.7" fill="#0000ff"/>
<circle cx="167.8" cy="556.7" r="3.7" fill="#ff0000"/>
<text y="537.4" font-size="15.3" fill="#000"><tspan x="203.84" textLength="29.91" lengthAdjust="spacingAndGlyphs">high</tspan> <tspan x="237.4" textLength="33.05" lengthAdjust="spacingAndGlyphs">freq.</tspan></text>
<text y="560.5" font-size="15.3" fill="#000"><tspan x="203.86" textLength="24.16" lengthAdjust="spacingAndGlyphs">low</tspan> <tspan x="233.41" textLength="31.89" lengthAdjust="spacingAndGlyphs">freq.</tspan></text>
<text x="146.91" y="302.8" font-size="17.0" textLength="19.85" lengthAdjust="spacingAndGlyphs">10</text>
<text x="166.91" y="293.8" font-size="13.2" textLength="12.64" lengthAdjust="spacingAndGlyphs">-1</text>
<text x="275.43" y="302.8" font-size="17.0" textLength="19.51" lengthAdjust="spacingAndGlyphs">10</text>
<text x="295.9" y="293.8" font-size="13.2" textLength="7.69" lengthAdjust="spacingAndGlyphs">0</text>
<text x="401.43" y="302.8" font-size="17.0" textLength="19.51" lengthAdjust="spacingAndGlyphs">10</text>
<text x="421.95" y="293.8" font-size="13.2" textLength="6.69" lengthAdjust="spacingAndGlyphs">1</text>
<text x="526.43" y="302.8" font-size="17.0" textLength="19.51" lengthAdjust="spacingAndGlyphs">10</text>
<text x="547.05" y="293.8" font-size="13.2" textLength="7.82" lengthAdjust="spacingAndGlyphs">2</text>
<text x="652.43" y="302.8" font-size="17.0" textLength="19.51" lengthAdjust="spacingAndGlyphs">10</text>
<text x="672.92" y="293.8" font-size="13.2" textLength="6.44" lengthAdjust="spacingAndGlyphs">3</text>
<text x="777.43" y="302.8" font-size="17.0" textLength="19.51" lengthAdjust="spacingAndGlyphs">10</text>
<text x="797.95" y="293.8" font-size="13.2" textLength="7.49" lengthAdjust="spacingAndGlyphs">4</text>
<text x="146.91" y="613.7" font-size="17.0" textLength="19.85" lengthAdjust="spacingAndGlyphs">10</text>
<text x="166.91" y="604.7" font-size="13.2" textLength="12.64" lengthAdjust="spacingAndGlyphs">-1</text>
<text x="275.43" y="613.7" font-size="17.0" textLength="19.51" lengthAdjust="spacingAndGlyphs">10</text>
<text x="295.9" y="604.7" font-size="13.2" textLength="7.69" lengthAdjust="spacingAndGlyphs">0</text>
<text x="401.43" y="613.7" font-size="17.0" textLength="19.51" lengthAdjust="spacingAndGlyphs">10</text>
<text x="421.95" y="604.7" font-size="13.2" textLength="6.69" lengthAdjust="spacingAndGlyphs">1</text>
<text x="526.43" y="613.7" font-size="17.0" textLength="19.51" lengthAdjust="spacingAndGlyphs">10</text>
<text x="547.05" y="604.7" font-size="13.2" textLength="7.82" lengthAdjust="spacingAndGlyphs">2</text>
<text x="652.43" y="613.7" font-size="17.0" textLength="19.51" lengthAdjust="spacingAndGlyphs">10</text>
<text x="672.92" y="604.7" font-size="13.2" textLength="6.44" lengthAdjust="spacingAndGlyphs">3</text>
<text x="777.43" y="613.7" font-size="17.0" textLength="19.51" lengthAdjust="spacingAndGlyphs">10</text>
<text x="797.95" y="604.7" font-size="13.2" textLength="7.49" lengthAdjust="spacingAndGlyphs">4</text>
<text x="78.03" y="59.7" font-size="17.0" textLength="19.51" lengthAdjust="spacingAndGlyphs">10</text>
<text x="98.18" y="50.7" font-size="13.2" textLength="7.2" lengthAdjust="spacingAndGlyphs">1</text>
<text x="78.03" y="208.7" font-size="17.0" textLength="19.51" lengthAdjust="spacingAndGlyphs">10</text>
<text x="97.6" y="199.7" font-size="13.2" textLength="7.69" lengthAdjust="spacingAndGlyphs">0</text>
<text x="76.96" y="414.5" font-size="17.0" textLength="28.76" lengthAdjust="spacingAndGlyphs">100</text>
<text x="95.84" y="476.8" font-size="17.0" textLength="9.9" lengthAdjust="spacingAndGlyphs">0</text>
<text x="70.86" y="539" font-size="17.0" textLength="34.97" lengthAdjust="spacingAndGlyphs">-100</text>
<text y="38.8" font-size="17.8" fill="#000"><tspan x="323.65" textLength="66.29" lengthAdjust="spacingAndGlyphs">Transfer</tspan> <tspan x="396.85" textLength="69.34" lengthAdjust="spacingAndGlyphs">function</tspan> <tspan x="470.13" textLength="18" lengthAdjust="spacingAndGlyphs">of</tspan> <tspan x="492.53" textLength="8.1" lengthAdjust="spacingAndGlyphs">a</tspan> <tspan x="507.73" textLength="27.97" lengthAdjust="spacingAndGlyphs">PZT</tspan> <tspan x="542.25" textLength="42.02" lengthAdjust="spacingAndGlyphs">amp.</tspan></text>
<text y="640.8" font-size="17.8"><tspan x="392.67" textLength="82.11" lengthAdjust="spacingAndGlyphs">frequency</tspan> <tspan x="481.98" textLength="32.14" lengthAdjust="spacingAndGlyphs">[Hz]</tspan></text>
<text y="0" font-size="17.8" transform="translate(63.6 228.7) rotate(-90)"><tspan x="-0.95" textLength="83.16" lengthAdjust="spacingAndGlyphs">magnitude</tspan> <tspan x="87.09" textLength="48.22" lengthAdjust="spacingAndGlyphs">[V/V]</tspan></text>
<text y="0" font-size="17.8" transform="translate(56.6 519) rotate(-90)"><tspan x="-0.88" textLength="47.51" lengthAdjust="spacingAndGlyphs">phase</tspan> <tspan x="52.18" textLength="43.42" lengthAdjust="spacingAndGlyphs">[deg]</tspan></text>
</svg>
</body></html>
